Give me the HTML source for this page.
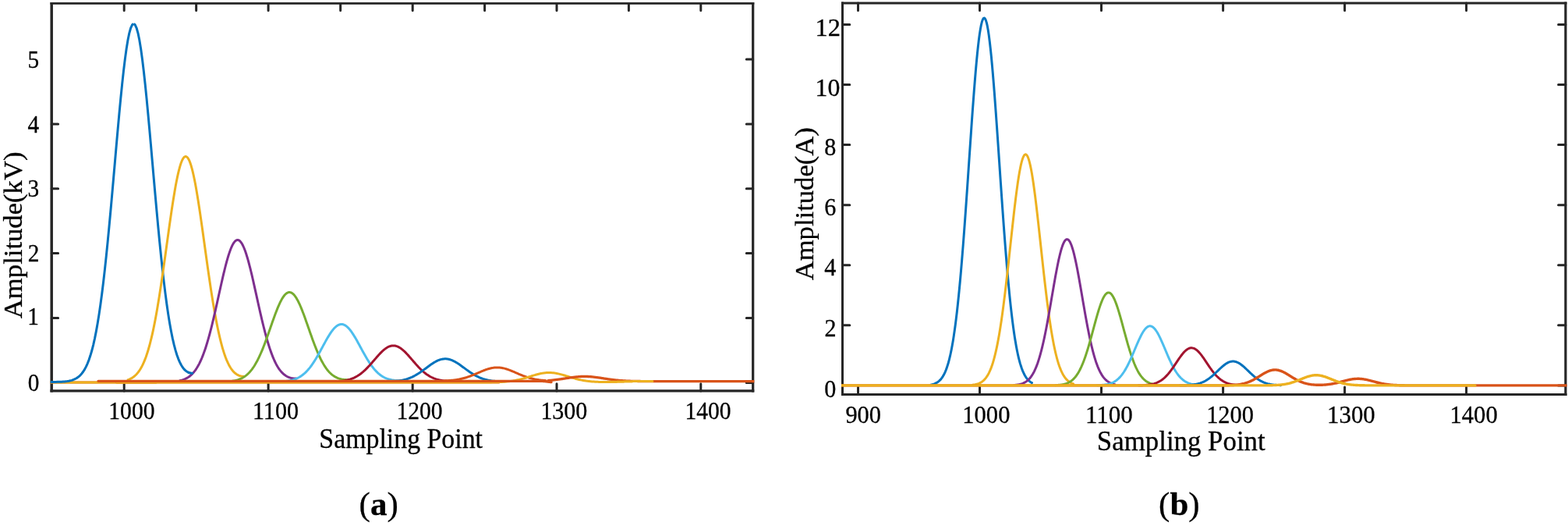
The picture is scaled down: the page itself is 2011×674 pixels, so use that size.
<!DOCTYPE html>
<html lang="en"><head><meta charset="utf-8"><title>Figure</title>
<style>html,body{margin:0;padding:0;background:#fff;}body{width:2011px;height:674px;overflow:hidden;}svg{display:block;}</style></head>
<body>
<svg width="2011" height="674" viewBox="0 0 2011 674" font-family="'Liberation Serif', 'Times New Roman', serif" fill="#000">
<rect width="2011" height="674" fill="#fff" stroke="none"/>
<clipPath id="clipa"><rect x="64.70" y="4.40" width="902.70" height="496.50"/></clipPath>
<g fill="none" stroke="#262626" stroke-linecap="round">
<path stroke-linecap="butt" stroke-width="2.80" d="M64.45,4.40H967.30"/>
<path stroke-linecap="butt" stroke-width="3.20" d="M64.45,500.90H967.30"/>
<path stroke-linecap="butt" stroke-width="3.50" d="M66.20,3.00V502.50"/>
<path stroke-linecap="butt" stroke-width="3.20" d="M965.70,3.00V502.50"/>
<path stroke-width="3.00" d="M159.20,500.90V491.80M344.10,500.90V491.80M529.20,500.90V491.80M714.00,500.90V491.80M898.80,500.90V491.80M159.20,4.40V13.50M251.65,4.40V13.50M344.10,4.40V13.50M436.65,4.40V13.50M529.20,4.40V13.50M621.60,4.40V13.50M714.00,4.40V13.50M806.40,4.40V13.50M898.80,4.40V13.50M66.20,407.50H74.60M66.20,324.60H74.60M66.20,241.80H74.60M66.20,158.90H74.60M965.70,490.40H957.30M965.70,407.50H957.30M965.70,324.60H957.30M965.70,241.80H957.30M965.70,158.90H957.30M965.70,76.00H957.30"/>
</g>
<g fill="none" stroke-width="3.00" stroke-linecap="round" stroke-linejoin="round" clip-path="url(#clipa)">
<path d="M60.00,490.00 L200.00,490.00" stroke="#D95319"/>
<path d="M60.00,490.00 L200.00,490.00" stroke="#EDB120"/>
<path d="M60.46,489.49 L62.31,489.48 L64.16,489.47 L66.01,489.46 L67.86,489.45 L69.71,489.43 L71.55,489.40 L73.40,489.37 L75.25,489.32 L77.10,489.25 L78.95,489.17 L80.80,489.06 L82.65,488.92 L84.50,488.73 L86.35,488.50 L88.20,488.19 L90.04,487.81 L91.89,487.33 L93.74,486.72 L95.59,485.96 L97.44,485.03 L99.29,483.88 L101.14,482.48 L102.99,480.78 L104.84,478.72 L106.69,476.27 L108.53,473.34 L110.38,469.88 L112.23,465.82 L114.08,461.08 L115.93,455.59 L117.78,449.28 L119.63,442.06 L121.48,433.87 L123.33,424.65 L125.18,414.33 L127.02,402.87 L128.87,390.25 L130.72,376.44 L132.57,361.45 L134.42,345.32 L136.27,328.08 L138.12,309.83 L139.97,290.67 L141.82,270.74 L143.67,250.20 L145.51,229.25 L147.36,208.09 L149.21,186.97 L151.06,166.14 L152.91,145.87 L154.76,126.44 L156.61,108.13 L158.46,91.20 L160.31,75.93 L162.16,62.55 L164.00,51.28 L165.85,42.30 L167.70,35.78 L169.55,31.83 L171.40,30.50" stroke="#0072BD" stroke-linecap="butt"/>
<path d="M171.40,30.50 L173.25,31.83 L175.10,35.78 L176.95,42.30 L178.80,51.28 L180.65,62.55 L182.49,75.93 L184.34,91.20 L186.19,108.13 L188.04,126.44 L189.89,145.87 L191.74,166.14 L193.59,186.97 L195.44,208.09 L197.29,229.25 L199.14,250.20 L200.98,270.74 L202.83,290.67 L204.68,309.83 L206.53,328.08 L208.38,345.32 L210.23,361.45 L212.08,376.44 L213.93,390.25 L215.78,402.87 L217.62,414.32 L219.47,424.57 L221.32,433.67 L223.17,441.68 L225.02,448.67 L226.87,454.69 L228.72,459.84 L230.57,464.17 L232.42,467.78 L234.27,470.72 L236.12,473.08 L237.96,474.91 L239.81,476.28 L241.66,477.25 L243.51,477.86 L245.36,478.15" stroke="#0072BD" stroke-linecap="butt"/>
<path d="M164.10,486.70 L165.10,486.33 L166.10,485.91 L167.11,485.45 L168.11,484.94 L169.11,484.36 L170.11,483.73 L171.11,483.03 L172.12,482.26 L173.12,481.41 L174.12,480.47 L175.12,479.45 L176.12,478.32 L177.13,477.09 L178.13,475.75 L179.13,474.29 L180.13,472.70 L181.13,470.98 L182.14,469.12 L183.14,467.11 L184.14,464.94 L185.14,462.61 L186.14,460.11 L187.15,457.43 L188.15,454.56 L189.15,451.50 L190.15,448.25 L191.15,444.79 L192.16,441.12 L193.16,437.24 L194.16,433.15 L195.16,428.84 L196.16,424.31 L197.17,419.56 L198.17,414.59 L199.17,409.41 L200.17,404.01 L201.17,398.41 L202.18,392.60 L203.18,386.60 L204.18,380.41 L205.18,374.04 L206.18,367.51 L207.19,360.83 L208.19,354.02 L209.19,347.08 L210.19,340.05 L211.19,332.94 L212.20,325.76 L213.20,318.55 L214.20,311.32 L215.20,304.11 L216.20,296.92 L217.21,289.80 L218.21,282.77 L219.21,275.86 L220.21,269.09 L221.21,262.49 L222.22,256.09 L223.22,249.91 L224.22,244.00 L225.22,238.36 L226.22,233.03 L227.23,228.03 L228.23,223.39 L229.23,219.12 L230.23,215.26 L231.23,211.81 L232.24,208.79 L233.24,206.23 L234.24,204.12 L235.24,202.49 L236.24,201.34 L237.25,200.68 L238.25,200.51 L239.25,200.82 L240.25,201.63 L241.26,202.93 L242.26,204.70 L243.26,206.94 L244.26,209.64 L245.26,212.79 L246.27,216.36 L247.27,220.35 L248.27,224.73 L249.27,229.48 L250.27,234.58 L251.28,240.00 L252.28,245.73 L253.28,251.72 L254.28,257.97 L255.28,264.43 L256.29,271.08 L257.29,277.90 L258.29,284.85 L259.29,291.91 L260.29,299.05 L261.30,306.25 L262.30,313.47 L263.30,320.70 L264.30,327.90 L265.30,335.06 L266.31,342.15 L267.31,349.16 L268.31,356.06 L269.31,362.83 L270.31,369.47 L271.32,375.95 L272.32,382.27 L273.32,388.40 L274.32,394.35 L275.32,400.10 L276.33,405.64 L277.33,410.97 L278.33,416.09 L279.33,420.99 L280.33,425.68 L281.34,430.14 L282.34,434.39 L283.34,438.42 L284.34,442.22 L285.34,445.81 L286.35,449.18 L287.35,452.34 L288.35,455.29 L289.35,458.04 L290.35,460.60 L291.36,462.97 L292.36,465.16 L293.36,467.18 L294.36,469.04 L295.36,470.73 L296.37,472.28 L297.37,473.69 L298.37,474.96 L299.37,476.10 L300.37,477.13 L301.38,478.04 L302.38,478.84 L303.38,479.55 L304.38,480.16 L305.38,480.68 L306.39,481.13 L307.39,481.50 L308.39,481.79 L309.39,482.02 L310.39,482.20 L311.40,482.31 L312.40,482.37 L313.40,482.38" stroke="#EDB120"/>
<path d="M230.70,487.74 L231.70,487.50 L232.70,487.24 L233.71,486.95 L234.71,486.63 L235.71,486.27 L236.71,485.87 L237.71,485.43 L238.72,484.94 L239.72,484.40 L240.72,483.81 L241.72,483.17 L242.72,482.46 L243.73,481.69 L244.73,480.84 L245.73,479.92 L246.73,478.92 L247.73,477.84 L248.74,476.67 L249.74,475.40 L250.74,474.04 L251.74,472.57 L252.74,470.99 L253.75,469.30 L254.75,467.50 L255.75,465.57 L256.75,463.52 L257.75,461.34 L258.76,459.03 L259.76,456.59 L260.76,454.01 L261.76,451.30 L262.76,448.45 L263.77,445.45 L264.77,442.33 L265.77,439.06 L266.77,435.66 L267.77,432.13 L268.78,428.48 L269.78,424.70 L270.78,420.80 L271.78,416.79 L272.78,412.68 L273.79,408.47 L274.79,404.18 L275.79,399.81 L276.79,395.38 L277.79,390.90 L278.80,386.38 L279.80,381.84 L280.80,377.29 L281.80,372.75 L282.80,368.22 L283.81,363.74 L284.81,359.31 L285.81,354.96 L286.81,350.69 L287.81,346.54 L288.82,342.51 L289.82,338.62 L290.82,334.89 L291.82,331.34 L292.82,327.99 L293.83,324.84 L294.83,321.91 L295.83,319.23 L296.83,316.79 L297.83,314.62 L298.84,312.72 L299.84,311.11 L300.84,309.78 L301.84,308.75 L302.84,308.03 L303.85,307.61 L304.85,307.50 L305.85,307.70 L306.85,308.21 L307.86,309.03 L308.86,310.14 L309.86,311.56 L310.86,313.26 L311.86,315.24 L312.87,317.49 L313.87,320.00 L314.87,322.76 L315.87,325.75 L316.87,328.96 L317.88,332.38 L318.88,335.98 L319.88,339.76 L320.88,343.69 L321.88,347.76 L322.89,351.95 L323.89,356.24 L324.89,360.62 L325.89,365.07 L326.89,369.57 L327.90,374.10 L328.90,378.64 L329.90,383.19 L330.90,387.73 L331.90,392.24 L332.91,396.71 L333.91,401.12 L334.91,405.46 L335.91,409.73 L336.91,413.91 L337.92,417.99 L338.92,421.97 L339.92,425.83 L340.92,429.58 L341.92,433.20 L342.93,436.69 L343.93,440.05 L344.93,443.27 L345.93,446.36 L346.93,449.31 L347.94,452.12 L348.94,454.79 L349.94,457.33 L350.94,459.73 L351.94,461.99 L352.95,464.11 L353.95,466.10 L354.95,467.96 L355.95,469.69 L356.95,471.30 L357.96,472.79 L358.96,474.17 L359.96,475.45 L360.96,476.61 L361.96,477.68 L362.97,478.66 L363.97,479.54 L364.97,480.34 L365.97,481.06 L366.97,481.71 L367.98,482.28 L368.98,482.79 L369.98,483.23 L370.98,483.62 L371.98,483.95 L372.99,484.23 L373.99,484.46 L374.99,484.65 L375.99,484.79 L376.99,484.90 L378.00,484.97 L379.00,485.01 L380.00,485.02" stroke="#7E2F8E"/>
<path d="M297.20,488.39 L298.20,488.24 L299.20,488.07 L300.21,487.89 L301.21,487.68 L302.21,487.46 L303.21,487.20 L304.21,486.93 L305.22,486.62 L306.22,486.28 L307.22,485.91 L308.22,485.50 L309.22,485.05 L310.23,484.56 L311.23,484.03 L312.23,483.45 L313.23,482.82 L314.23,482.13 L315.24,481.39 L316.24,480.59 L317.24,479.73 L318.24,478.80 L319.24,477.80 L320.25,476.74 L321.25,475.60 L322.25,474.38 L323.25,473.08 L324.25,471.71 L325.26,470.25 L326.26,468.71 L327.26,467.08 L328.26,465.36 L329.26,463.56 L330.27,461.67 L331.27,459.69 L332.27,457.63 L333.27,455.48 L334.27,453.25 L335.28,450.94 L336.28,448.55 L337.28,446.09 L338.28,443.56 L339.28,440.96 L340.29,438.30 L341.29,435.59 L342.29,432.83 L343.29,430.03 L344.29,427.20 L345.30,424.34 L346.30,421.47 L347.30,418.60 L348.30,415.73 L349.30,412.87 L350.31,410.04 L351.31,407.24 L352.31,404.49 L353.31,401.79 L354.31,399.17 L355.32,396.62 L356.32,394.16 L357.32,391.81 L358.32,389.56 L359.32,387.44 L360.33,385.45 L361.33,383.61 L362.33,381.91 L363.33,380.37 L364.33,379.00 L365.34,377.80 L366.34,376.78 L367.34,375.94 L368.34,375.29 L369.34,374.83 L370.35,374.57 L371.35,374.50 L372.35,374.63 L373.35,374.95 L374.36,375.47 L375.36,376.17 L376.36,377.06 L377.36,378.14 L378.36,379.39 L379.37,380.81 L380.37,382.40 L381.37,384.14 L382.37,386.03 L383.37,388.06 L384.38,390.22 L385.38,392.50 L386.38,394.88 L387.38,397.37 L388.38,399.94 L389.39,402.59 L390.39,405.30 L391.39,408.07 L392.39,410.88 L393.39,413.72 L394.40,416.58 L395.40,419.45 L396.40,422.33 L397.40,425.20 L398.40,428.04 L399.41,430.87 L400.41,433.65 L401.41,436.40 L402.41,439.10 L403.41,441.74 L404.42,444.32 L405.42,446.83 L406.42,449.27 L407.42,451.64 L408.42,453.92 L409.43,456.13 L410.43,458.25 L411.43,460.29 L412.43,462.24 L413.43,464.10 L414.44,465.88 L415.44,467.57 L416.44,469.17 L417.44,470.69 L418.44,472.12 L419.45,473.46 L420.45,474.71 L421.45,475.89 L422.45,476.98 L423.45,478.00 L424.46,478.94 L425.46,479.82 L426.46,480.62 L427.46,481.36 L428.46,482.03 L429.47,482.65 L430.47,483.21 L431.47,483.71 L432.47,484.17 L433.47,484.58 L434.48,484.94 L435.48,485.26 L436.48,485.54 L437.48,485.78 L438.48,485.99 L439.49,486.17 L440.49,486.31 L441.49,486.43 L442.49,486.53 L443.49,486.59 L444.50,486.64 L445.50,486.66 L446.50,486.67" stroke="#77AC30"/>
<path d="M363.90,488.78 L364.90,488.69 L365.90,488.58 L366.91,488.46 L367.91,488.33 L368.91,488.18 L369.91,488.02 L370.91,487.84 L371.92,487.65 L372.92,487.43 L373.92,487.19 L374.92,486.93 L375.92,486.64 L376.93,486.32 L377.93,485.98 L378.93,485.61 L379.93,485.20 L380.93,484.76 L381.94,484.28 L382.94,483.77 L383.94,483.21 L384.94,482.62 L385.94,481.97 L386.95,481.29 L387.95,480.55 L388.95,479.77 L389.95,478.94 L390.95,478.05 L391.96,477.11 L392.96,476.12 L393.96,475.07 L394.96,473.97 L395.96,472.81 L396.97,471.59 L397.97,470.32 L398.97,468.99 L399.97,467.61 L400.97,466.18 L401.98,464.69 L402.98,463.15 L403.98,461.57 L404.98,459.94 L405.98,458.26 L406.99,456.55 L407.99,454.81 L408.99,453.03 L409.99,451.23 L410.99,449.41 L412.00,447.57 L413.00,445.73 L414.00,443.88 L415.00,442.03 L416.00,440.19 L417.01,438.37 L418.01,436.57 L419.01,434.80 L420.01,433.06 L421.01,431.37 L422.02,429.73 L423.02,428.15 L424.02,426.64 L425.02,425.19 L426.02,423.83 L427.03,422.55 L428.03,421.36 L429.03,420.27 L430.03,419.28 L431.03,418.39 L432.04,417.62 L433.04,416.97 L434.04,416.43 L435.04,416.01 L436.04,415.72 L437.05,415.55 L438.05,415.50 L439.05,415.58 L440.05,415.79 L441.06,416.12 L442.06,416.57 L443.06,417.15 L444.06,417.84 L445.06,418.65 L446.07,419.56 L447.07,420.58 L448.07,421.70 L449.07,422.92 L450.07,424.23 L451.08,425.62 L452.08,427.08 L453.08,428.62 L454.08,430.21 L455.08,431.87 L456.09,433.57 L457.09,435.32 L458.09,437.10 L459.09,438.91 L460.09,440.74 L461.10,442.58 L462.10,444.43 L463.10,446.28 L464.10,448.12 L465.10,449.95 L466.11,451.77 L467.11,453.56 L468.11,455.33 L469.11,457.07 L470.11,458.77 L471.12,460.43 L472.12,462.04 L473.12,463.61 L474.12,465.14 L475.12,466.61 L476.13,468.03 L477.13,469.39 L478.13,470.70 L479.13,471.96 L480.13,473.16 L481.14,474.30 L482.14,475.39 L483.14,476.42 L484.14,477.39 L485.14,478.31 L486.15,479.18 L487.15,479.98 L488.15,480.74 L489.15,481.44 L490.15,482.10 L491.16,482.71 L492.16,483.27 L493.16,483.79 L494.16,484.26 L495.16,484.69 L496.17,485.09 L497.17,485.45 L498.17,485.78 L499.17,486.07 L500.17,486.33 L501.18,486.56 L502.18,486.77 L503.18,486.95 L504.18,487.11 L505.18,487.24 L506.19,487.36 L507.19,487.45 L508.19,487.53 L509.19,487.59 L510.19,487.63 L511.20,487.66 L512.20,487.67 L513.20,487.68" stroke="#4DBEEE"/>
<path d="M430.40,489.05 L431.40,488.99 L432.40,488.92 L433.41,488.85 L434.41,488.76 L435.41,488.67 L436.41,488.57 L437.41,488.46 L438.42,488.33 L439.42,488.20 L440.42,488.04 L441.42,487.88 L442.42,487.70 L443.43,487.50 L444.43,487.28 L445.43,487.05 L446.43,486.79 L447.43,486.51 L448.44,486.21 L449.44,485.89 L450.44,485.54 L451.44,485.16 L452.44,484.76 L453.45,484.33 L454.45,483.87 L455.45,483.37 L456.45,482.85 L457.45,482.29 L458.46,481.70 L459.46,481.07 L460.46,480.41 L461.46,479.72 L462.46,478.99 L463.47,478.22 L464.47,477.42 L465.47,476.59 L466.47,475.72 L467.47,474.81 L468.48,473.88 L469.48,472.91 L470.48,471.91 L471.48,470.88 L472.48,469.83 L473.49,468.75 L474.49,467.65 L475.49,466.54 L476.49,465.40 L477.49,464.25 L478.50,463.10 L479.50,461.93 L480.50,460.77 L481.50,459.61 L482.50,458.45 L483.51,457.30 L484.51,456.17 L485.51,455.05 L486.51,453.96 L487.51,452.90 L488.52,451.86 L489.52,450.87 L490.52,449.91 L491.52,449.00 L492.52,448.15 L493.53,447.34 L494.53,446.59 L495.53,445.90 L496.53,445.28 L497.53,444.72 L498.54,444.24 L499.54,443.82 L500.54,443.48 L501.54,443.22 L502.54,443.04 L503.55,442.93 L504.55,442.90 L505.55,442.95 L506.55,443.08 L507.56,443.29 L508.56,443.58 L509.56,443.94 L510.56,444.37 L511.56,444.88 L512.57,445.46 L513.57,446.10 L514.57,446.81 L515.57,447.57 L516.57,448.40 L517.58,449.27 L518.58,450.19 L519.58,451.16 L520.58,452.17 L521.58,453.21 L522.59,454.28 L523.59,455.38 L524.59,456.50 L525.59,457.64 L526.59,458.79 L527.60,459.95 L528.60,461.12 L529.60,462.28 L530.60,463.44 L531.60,464.60 L532.61,465.74 L533.61,466.87 L534.61,467.98 L535.61,469.08 L536.61,470.15 L537.62,471.19 L538.62,472.21 L539.62,473.20 L540.62,474.16 L541.62,475.08 L542.63,475.98 L543.63,476.84 L544.63,477.66 L545.63,478.45 L546.63,479.21 L547.64,479.93 L548.64,480.61 L549.64,481.26 L550.64,481.88 L551.64,482.46 L552.65,483.00 L553.65,483.51 L554.65,483.98 L555.65,484.43 L556.65,484.84 L557.66,485.22 L558.66,485.58 L559.66,485.90 L560.66,486.20 L561.66,486.47 L562.67,486.72 L563.67,486.95 L564.67,487.16 L565.67,487.34 L566.67,487.50 L567.68,487.65 L568.68,487.78 L569.68,487.90 L570.68,487.99 L571.68,488.08 L572.69,488.15 L573.69,488.21 L574.69,488.26 L575.69,488.29 L576.69,488.32 L577.70,488.34 L578.70,488.35 L579.70,488.35" stroke="#A2142F"/>
<path d="M497.00,489.21 L498.00,489.17 L499.00,489.13 L500.01,489.08 L501.01,489.03 L502.01,488.97 L503.01,488.91 L504.01,488.84 L505.02,488.76 L506.02,488.67 L507.02,488.57 L508.02,488.47 L509.02,488.35 L510.03,488.22 L511.03,488.09 L512.03,487.94 L513.03,487.77 L514.03,487.60 L515.04,487.41 L516.04,487.20 L517.04,486.98 L518.04,486.74 L519.04,486.48 L520.05,486.20 L521.05,485.91 L522.05,485.59 L523.05,485.26 L524.05,484.90 L525.06,484.53 L526.06,484.13 L527.06,483.71 L528.06,483.27 L529.06,482.80 L530.07,482.31 L531.07,481.80 L532.07,481.27 L533.07,480.71 L534.07,480.14 L535.08,479.54 L536.08,478.92 L537.08,478.29 L538.08,477.63 L539.08,476.96 L540.09,476.28 L541.09,475.58 L542.09,474.86 L543.09,474.14 L544.09,473.41 L545.10,472.67 L546.10,471.93 L547.10,471.19 L548.10,470.45 L549.10,469.71 L550.11,468.98 L551.11,468.26 L552.11,467.54 L553.11,466.85 L554.11,466.17 L555.12,465.51 L556.12,464.88 L557.12,464.27 L558.12,463.69 L559.12,463.14 L560.13,462.63 L561.13,462.15 L562.13,461.71 L563.13,461.32 L564.13,460.96 L565.14,460.65 L566.14,460.39 L567.14,460.17 L568.14,460.00 L569.14,459.89 L570.15,459.82 L571.15,459.80 L572.15,459.83 L573.15,459.92 L574.16,460.05 L575.16,460.23 L576.16,460.46 L577.16,460.74 L578.16,461.06 L579.17,461.43 L580.17,461.84 L581.17,462.29 L582.17,462.78 L583.17,463.30 L584.18,463.86 L585.18,464.45 L586.18,465.06 L587.18,465.71 L588.18,466.37 L589.19,467.05 L590.19,467.75 L591.19,468.47 L592.19,469.19 L593.19,469.93 L594.20,470.67 L595.20,471.41 L596.20,472.15 L597.20,472.89 L598.20,473.63 L599.21,474.36 L600.21,475.08 L601.21,475.79 L602.21,476.48 L603.21,477.16 L604.22,477.83 L605.22,478.48 L606.22,479.11 L607.22,479.72 L608.22,480.31 L609.23,480.88 L610.23,481.43 L611.23,481.96 L612.23,482.46 L613.23,482.94 L614.24,483.40 L615.24,483.84 L616.24,484.25 L617.24,484.64 L618.24,485.01 L619.25,485.36 L620.25,485.68 L621.25,485.98 L622.25,486.27 L623.25,486.53 L624.26,486.77 L625.26,487.00 L626.26,487.21 L627.26,487.40 L628.26,487.57 L629.27,487.73 L630.27,487.87 L631.27,488.01 L632.27,488.12 L633.27,488.23 L634.28,488.32 L635.28,488.40 L636.28,488.48 L637.28,488.54 L638.28,488.59 L639.29,488.64 L640.29,488.68 L641.29,488.71 L642.29,488.73 L643.29,488.75 L644.30,488.76 L645.30,488.77 L646.30,488.77" stroke="#0072BD"/>
<path d="M241.40,477.13 L242.46,477.55 L243.52,477.86 L244.58,478.06 L245.64,478.17 L246.70,478.20" stroke="#0072BD"/>
<path d="M570.00,487.94 L571.00,487.89 L572.00,487.84 L573.00,487.79 L574.00,487.73 L575.00,487.67 L576.00,487.60 L577.00,487.52 L578.00,487.44 L579.00,487.35 L580.00,487.25 L581.00,487.15 L582.00,487.03 L583.00,486.91 L584.00,486.77 L585.00,486.63 L586.00,486.47 L587.00,486.31 L588.00,486.13 L589.00,485.95 L590.00,485.75 L591.00,485.53 L592.00,485.31 L593.00,485.07 L594.00,484.82 L595.00,484.56 L596.00,484.28 L597.00,483.99 L598.00,483.69 L599.00,483.37 L600.00,483.04 L601.00,482.70 L602.00,482.35 L603.00,481.99 L604.00,481.61 L605.00,481.22 L606.00,480.83 L607.00,480.43 L608.00,480.01 L609.00,479.60 L610.00,479.17 L611.00,478.74 L612.00,478.31 L613.00,477.88 L614.00,477.44 L615.00,477.01 L616.00,476.58 L617.00,476.15 L618.00,475.73 L619.00,475.32 L620.00,474.91 L621.00,474.52 L622.00,474.14 L623.00,473.77 L624.00,473.42 L625.00,473.09 L626.00,472.77 L627.00,472.48 L628.00,472.21 L629.00,471.96 L630.00,471.73 L631.00,471.53 L632.00,471.36 L633.00,471.21 L634.00,471.09 L635.00,471.00 L636.00,470.94 L637.00,470.91 L638.00,470.90 L639.00,470.93 L640.00,470.98 L641.00,471.07 L642.00,471.18 L643.00,471.32 L644.00,471.49 L645.00,471.69 L646.00,471.91 L647.00,472.15 L648.00,472.42 L649.00,472.71 L650.00,473.02 L651.00,473.35 L652.00,473.70 L653.00,474.07 L654.00,474.44 L655.00,474.83 L656.00,475.24 L657.00,475.65 L658.00,476.07 L659.00,476.49 L660.00,476.92 L661.00,477.36 L662.00,477.79 L663.00,478.22 L664.00,478.66 L665.00,479.09 L666.00,479.51 L667.00,479.93 L668.00,480.34 L669.00,480.75 L670.00,481.15 L671.00,481.53 L672.00,481.91 L673.00,482.28 L674.00,482.63 L675.00,482.98 L676.00,483.31 L677.00,483.63 L678.00,483.93 L679.00,484.22 L680.00,484.50 L681.00,484.77 L682.00,485.02 L683.00,485.26 L684.00,485.49 L685.00,485.70 L686.00,485.91 L687.00,486.10 L688.00,486.27 L689.00,486.44 L690.00,486.60 L691.00,486.74 L692.00,486.88 L693.00,487.01 L694.00,487.12 L695.00,487.23 L696.00,487.33 L697.00,487.42 L698.00,487.51 L699.00,487.59 L700.00,487.66" stroke="#D95319"/>
<path d="M150.00,490.00 L640.00,490.00" stroke="#D95319"/>
<path d="M150.00,490.00 L151.00,490.00 L152.00,490.00 L153.00,490.00 L154.00,490.00 L155.00,490.00 L156.00,490.00 L157.00,490.00 L158.00,490.00 L159.00,490.00 L160.00,490.00 L161.00,490.00 L162.00,490.00 L163.00,490.00 L164.00,490.00 L165.00,490.00 L166.00,490.00 L167.00,490.00 L168.00,490.00 L169.00,490.00 L170.00,490.00 L171.00,490.00 L172.00,490.00 L173.00,490.00 L174.00,490.00 L175.00,490.00 L176.00,490.00 L177.00,490.00 L178.00,490.00 L179.00,490.00 L180.00,490.00 L181.00,490.00 L182.00,490.00 L183.00,490.00 L184.00,490.00 L184.99,490.00 L185.99,490.00 L186.99,490.00 L187.99,490.00 L188.99,490.00 L189.99,490.00 L190.99,490.00 L191.99,490.00 L192.99,490.00 L193.99,490.00 L194.99,490.00 L195.99,490.00 L196.99,490.00 L197.99,490.00 L198.99,490.00 L199.99,490.00 L200.99,490.00 L201.99,490.00 L202.99,490.00 L203.99,490.00 L204.99,490.00 L205.99,490.00 L206.99,490.00 L207.99,490.00 L208.99,490.00 L209.99,490.00 L210.99,490.00 L211.99,490.00 L212.99,490.00 L213.99,490.00 L214.99,490.00 L215.99,490.00 L216.99,490.00 L217.99,490.00 L218.99,490.00 L219.99,490.00 L220.99,490.00 L221.99,490.00 L222.99,490.00 L223.99,490.00 L224.99,490.00 L225.99,490.00 L226.99,490.00 L227.99,490.00 L228.99,490.00 L229.99,490.00 L230.99,490.00 L231.99,490.00 L232.99,490.00 L233.99,490.00 L234.99,490.00 L235.99,490.00 L236.99,490.00 L237.99,490.00 L238.99,490.00 L239.99,490.00 L240.99,490.00 L241.99,490.00 L242.99,490.00 L243.99,490.00 L244.99,490.00 L245.99,490.00 L246.99,490.00 L247.99,490.00 L248.99,490.00 L249.99,490.00 L250.99,490.00 L251.99,490.00 L252.99,490.00 L253.98,490.00 L254.98,490.00 L255.98,490.00 L256.98,490.00 L257.98,490.00 L258.98,490.00 L259.98,490.00 L260.98,490.00 L261.98,490.00 L262.98,490.00 L263.98,490.00 L264.98,490.00 L265.98,490.00 L266.98,490.00 L267.98,490.00 L268.98,490.00 L269.98,490.00 L270.98,490.00 L271.98,490.00 L272.98,490.00 L273.98,490.00 L274.98,490.00 L275.98,490.00 L276.98,490.00 L277.98,490.00 L278.98,490.00 L279.98,490.00 L280.98,490.00 L281.98,490.00 L282.98,490.00 L283.98,490.00 L284.98,490.00 L285.98,490.00 L286.98,490.00 L287.98,490.00 L288.98,490.00 L289.98,490.00 L290.98,490.00 L291.98,490.00 L292.98,490.00 L293.98,490.00 L294.98,490.00 L295.98,490.00 L296.98,490.00 L297.98,490.00 L298.98,490.00 L299.98,490.00 L300.98,490.00 L301.98,490.00 L302.98,490.00 L303.98,490.00 L304.98,490.00 L305.98,490.00 L306.98,490.00 L307.98,490.00 L308.98,490.00 L309.98,490.00 L310.98,490.00 L311.98,490.00 L312.98,490.00 L313.98,490.00 L314.98,490.00 L315.98,490.00 L316.98,490.00 L317.98,490.00 L318.98,490.00 L319.98,490.00 L320.98,490.00 L321.97,490.00 L322.97,490.00 L323.97,490.00 L324.97,490.00 L325.97,490.00 L326.97,490.00 L327.97,490.00 L328.97,490.00 L329.97,490.00 L330.97,490.00 L331.97,490.00 L332.97,490.00 L333.97,490.00 L334.97,490.00 L335.97,490.00 L336.97,490.00 L337.97,490.00 L338.97,490.00 L339.97,490.00 L340.97,490.00 L341.97,490.00 L342.97,490.00 L343.97,490.00 L344.97,490.00 L345.97,490.00 L346.97,490.00 L347.97,490.00 L348.97,490.00 L349.97,490.00 L350.97,490.00 L351.97,490.00 L352.97,490.00 L353.97,490.00 L354.97,490.00 L355.97,490.00 L356.97,490.00 L357.97,490.00 L358.97,490.00 L359.97,490.00 L360.97,490.00 L361.97,490.00 L362.97,490.00 L363.97,490.00 L364.97,490.00 L365.97,490.00 L366.97,490.00 L367.97,490.00 L368.97,490.00 L369.97,490.00 L370.97,490.00 L371.97,490.00 L372.97,490.00 L373.97,490.00 L374.97,490.00 L375.97,490.00 L376.97,490.00 L377.97,490.00 L378.97,490.00 L379.97,490.00 L380.97,490.00 L381.97,490.00 L382.97,490.00 L383.97,490.00 L384.97,490.00 L385.97,490.00 L386.97,490.00 L387.97,490.00 L388.97,490.00 L389.97,490.00 L390.96,490.00 L391.96,490.00 L392.96,490.00 L393.96,490.00 L394.96,490.00 L395.96,490.00 L396.96,490.00 L397.96,490.00 L398.96,490.00 L399.96,490.00 L400.96,490.00 L401.96,490.00 L402.96,490.00 L403.96,490.00 L404.96,490.00 L405.96,490.00 L406.96,490.00 L407.96,490.00 L408.96,490.00 L409.96,490.00 L410.96,490.00 L411.96,490.00 L412.96,490.00 L413.96,490.00 L414.96,490.00 L415.96,490.00 L416.96,490.00 L417.96,490.00 L418.96,490.00 L419.96,490.00 L420.96,490.00 L421.96,490.00 L422.96,490.00 L423.96,490.00 L424.96,490.00 L425.96,490.00 L426.96,490.00 L427.96,490.00 L428.96,490.00 L429.96,490.00 L430.96,490.00 L431.96,490.00 L432.96,490.00 L433.96,490.00 L434.96,490.00 L435.96,490.00 L436.96,490.00 L437.96,490.00 L438.96,490.00 L439.96,490.00 L440.96,490.00 L441.96,490.00 L442.96,490.00 L443.96,490.00 L444.96,490.00 L445.96,490.00 L446.96,490.00 L447.96,490.00 L448.96,490.00 L449.96,490.00 L450.96,490.00 L451.96,490.00 L452.96,490.00 L453.96,490.00 L454.96,490.00 L455.96,490.00 L456.96,490.00 L457.96,490.00 L458.96,490.00 L459.95,490.00 L460.95,490.00 L461.95,490.00 L462.95,490.00 L463.95,490.00 L464.95,490.00 L465.95,490.00 L466.95,490.00 L467.95,490.00 L468.95,490.00 L469.95,490.00 L470.95,490.00 L471.95,490.00 L472.95,490.00 L473.95,490.00 L474.95,490.00 L475.95,490.00 L476.95,490.00 L477.95,490.00 L478.95,490.00 L479.95,490.00 L480.95,490.00 L481.95,490.00 L482.95,490.00 L483.95,490.00 L484.95,490.00 L485.95,490.00 L486.95,490.00 L487.95,490.00 L488.95,490.00 L489.95,490.00 L490.95,490.00 L491.95,490.00 L492.95,490.00 L493.95,490.00 L494.95,490.00 L495.95,490.00 L496.95,490.00 L497.95,490.00 L498.95,490.00 L499.95,490.00 L500.95,490.00 L501.95,490.00 L502.95,490.00 L503.95,490.00 L504.95,490.00 L505.95,490.00 L506.95,490.00 L507.95,490.00 L508.95,490.00 L509.95,490.00 L510.95,490.00 L511.95,490.00 L512.95,490.00 L513.95,490.00 L514.95,490.00 L515.95,490.00 L516.95,490.00 L517.95,490.00 L518.95,490.00 L519.95,490.00 L520.95,490.00 L521.95,490.00 L522.95,490.00 L523.95,490.00 L524.95,490.00 L525.95,490.00 L526.95,490.00 L527.94,490.00 L528.94,490.00 L529.94,490.00 L530.94,490.00 L531.94,490.00 L532.94,490.00 L533.94,490.00 L534.94,490.00 L535.94,490.00 L536.94,490.00 L537.94,490.00 L538.94,490.00 L539.94,490.00 L540.94,490.00 L541.94,490.00 L542.94,490.00 L543.94,490.00 L544.94,490.00 L545.94,490.00 L546.94,490.00 L547.94,490.00 L548.94,490.00 L549.94,490.00 L550.94,490.00 L551.94,490.00 L552.94,490.00 L553.94,490.00 L554.94,490.00 L555.94,490.00 L556.94,490.00 L557.94,490.00 L558.94,490.00 L559.94,490.00 L560.94,490.00 L561.94,490.00 L562.94,490.00 L563.94,490.00 L564.94,490.00 L565.94,490.00 L566.94,490.00 L567.94,490.00 L568.94,490.00 L569.94,490.00 L570.94,490.00 L571.94,490.00 L572.94,490.00 L573.94,490.00 L574.94,490.00 L575.94,490.00 L576.94,490.00 L577.94,490.00 L578.94,490.00 L579.94,490.00 L580.94,490.00 L581.94,490.00 L582.94,490.00 L583.94,490.00 L584.94,490.00 L585.94,490.00 L586.94,490.00 L587.94,490.00 L588.94,490.00 L589.94,490.00 L590.94,490.00 L591.94,490.00 L592.94,490.00 L593.94,490.00 L594.94,490.00 L595.94,490.00 L596.93,490.00 L597.93,490.00 L598.93,490.00 L599.93,490.00 L600.93,490.00 L601.93,490.00 L602.93,490.00 L603.93,490.00 L604.93,490.00 L605.93,490.00 L606.93,490.00 L607.93,490.00 L608.93,489.99 L609.93,489.99 L610.93,489.99 L611.93,489.99 L612.93,489.99 L613.93,489.99 L614.93,489.99 L615.93,489.98 L616.93,489.98 L617.93,489.98 L618.93,489.97 L619.93,489.97 L620.93,489.96 L621.93,489.96 L622.93,489.95 L623.93,489.95 L624.93,489.94 L625.93,489.93 L626.93,489.92 L627.93,489.91 L628.93,489.90 L629.93,489.88 L630.93,489.87 L631.93,489.85 L632.93,489.83 L633.93,489.81 L634.93,489.79 L635.93,489.76 L636.93,489.73 L637.93,489.70 L638.93,489.66 L639.93,489.62 L640.93,489.58 L641.93,489.53 L642.93,489.48 L643.93,489.42 L644.93,489.36 L645.93,489.29 L646.93,489.22 L647.93,489.14 L648.93,489.06 L649.93,488.97 L650.93,488.87 L651.93,488.76 L652.93,488.65 L653.93,488.53 L654.93,488.40 L655.93,488.26 L656.93,488.12 L657.93,487.96 L658.93,487.80 L659.93,487.62 L660.93,487.44 L661.93,487.25 L662.93,487.05 L663.93,486.83 L664.93,486.61 L665.92,486.38 L666.92,486.15 L667.92,485.90 L668.92,485.64 L669.92,485.38 L670.92,485.11 L671.92,484.83 L672.92,484.54 L673.92,484.25 L674.92,483.95 L675.92,483.65 L676.92,483.34 L677.92,483.03 L678.92,482.72 L679.92,482.41 L680.92,482.10 L681.92,481.79 L682.92,481.48 L683.92,481.18 L684.92,480.87 L685.92,480.58 L686.92,480.29 L687.92,480.01 L688.92,479.74 L689.92,479.48 L690.92,479.23 L691.92,479.00 L692.92,478.78 L693.92,478.57 L694.92,478.38 L695.92,478.20 L696.92,478.05 L697.92,477.91 L698.92,477.79 L699.92,477.69 L700.92,477.61 L701.92,477.55 L702.92,477.52 L703.92,477.50 L704.92,477.50 L705.92,477.53 L706.92,477.58 L707.92,477.64 L708.92,477.73 L709.92,477.84 L710.92,477.97 L711.92,478.11 L712.92,478.28 L713.92,478.46 L714.92,478.66 L715.92,478.87 L716.92,479.10 L717.92,479.34 L718.92,479.59 L719.92,479.85 L720.92,480.13 L721.92,480.41 L722.92,480.70 L723.92,481.00 L724.92,481.30 L725.92,481.61 L726.92,481.92 L727.92,482.23 L728.92,482.54 L729.92,482.85 L730.92,483.16 L731.92,483.46 L732.92,483.77 L733.91,484.07 L734.91,484.36 L735.91,484.65 L736.91,484.93 L737.91,485.21 L738.91,485.47 L739.91,485.73 L740.91,485.98 L741.91,486.22 L742.91,486.46 L743.91,486.68 L744.91,486.89 L745.91,487.10 L746.91,487.29 L747.91,487.47 L748.91,487.65 L749.91,487.81 L750.91,487.97 L751.91,488.12 L752.91,488.25 L753.91,488.38 L754.91,488.50 L755.91,488.61 L756.91,488.72 L757.91,488.81 L758.91,488.90 L759.91,488.98 L760.91,489.05 L761.91,489.11 L762.91,489.17 L763.91,489.23 L764.91,489.27 L765.91,489.31 L766.91,489.35 L767.91,489.38 L768.91,489.40 L769.91,489.42 L770.91,489.44 L771.91,489.45 L772.91,489.46 L773.91,489.46 L774.91,489.46 L775.91,489.46 L776.91,489.46 L777.91,489.45 L778.91,489.43 L779.91,489.42 L780.91,489.40 L781.91,489.38 L782.91,489.36 L783.91,489.34 L784.91,489.32 L785.91,489.29 L786.91,489.26 L787.91,489.24 L788.91,489.21 L789.91,489.18 L790.91,489.15 L791.91,489.12 L792.91,489.09 L793.91,489.06 L794.91,489.03 L795.91,489.00 L796.91,488.97 L797.91,488.94 L798.91,488.91 L799.91,488.88 L800.91,488.86 L801.91,488.83 L802.90,488.80 L803.90,488.78 L804.90,488.76 L805.90,488.73 L806.90,488.71 L807.90,488.69 L808.90,488.67 L809.90,488.65 L810.90,488.64 L811.90,488.62 L812.90,488.61 L813.90,488.59 L814.90,488.58 L815.90,488.57 L816.90,488.55 L817.90,488.54 L818.90,488.53 L819.90,488.52 L820.90,488.51 L821.90,488.50 L822.90,488.50 L823.90,488.49 L824.90,488.48 L825.90,488.48 L826.90,488.47 L827.90,488.47 L828.90,488.46 L829.90,488.46 L830.90,488.45 L831.90,488.45 L832.90,488.44 L833.90,488.44 L834.90,488.44 L835.90,488.43 L836.90,488.43" stroke="#EDB120"/>
<path d="M126.00,488.30 L127.00,488.30 L128.00,488.30 L129.00,488.30 L130.00,488.30 L131.00,488.30 L132.00,488.30 L133.00,488.30 L134.00,488.30 L135.00,488.30 L136.00,488.30 L137.00,488.30 L138.00,488.30 L139.00,488.30 L140.00,488.30 L141.00,488.30 L142.00,488.30 L143.00,488.30 L144.00,488.30 L145.00,488.30 L146.00,488.30 L147.00,488.30 L148.00,488.30 L149.00,488.30 L150.00,488.30 L151.00,488.30 L152.00,488.30 L153.00,488.30 L154.00,488.30 L155.00,488.30 L156.00,488.30 L157.00,488.30 L158.00,488.30 L159.00,488.30 L160.00,488.30 L161.00,488.30 L162.00,488.30 L163.00,488.30 L164.00,488.30 L165.00,488.30 L166.00,488.30 L167.00,488.30 L168.00,488.30 L169.00,488.30 L170.00,488.30 L171.00,488.30 L172.00,488.30 L173.00,488.30 L174.00,488.30 L175.00,488.30 L176.00,488.30 L177.00,488.30 L178.00,488.30 L179.00,488.30 L180.00,488.30 L181.00,488.30 L182.00,488.30 L183.00,488.30 L184.00,488.30 L185.00,488.30 L186.00,488.30 L187.00,488.30 L188.00,488.30 L189.00,488.30 L190.00,488.30 L191.00,488.30 L192.00,488.30 L193.00,488.30 L194.00,488.30 L195.00,488.30 L196.00,488.30 L197.00,488.30 L198.00,488.30 L199.00,488.30 L200.00,488.30 L201.00,488.30 L202.00,488.30 L203.00,488.30 L204.00,488.30 L205.00,488.30 L206.00,488.30 L207.00,488.30 L208.00,488.30 L209.00,488.30 L210.00,488.30 L211.00,488.30 L212.00,488.30 L213.00,488.30 L214.00,488.30 L215.00,488.30 L216.00,488.30 L217.00,488.30 L218.00,488.30 L219.00,488.30 L220.00,488.30 L221.00,488.30 L222.00,488.30 L223.00,488.30 L224.00,488.30 L225.00,488.30 L226.00,488.30 L227.00,488.30 L228.00,488.30 L229.00,488.30 L230.00,488.30 L231.00,488.30 L232.00,488.30 L233.00,488.30 L234.00,488.30 L235.00,488.30 L236.00,488.30 L237.00,488.30 L238.00,488.30 L239.00,488.30 L240.00,488.30 L241.00,488.30 L242.00,488.30 L243.00,488.30 L244.00,488.30 L245.00,488.30 L246.00,488.30 L247.00,488.30 L248.00,488.30 L249.00,488.30 L250.00,488.30 L251.00,488.30 L252.00,488.30 L253.00,488.30 L254.00,488.30 L255.00,488.30 L256.00,488.30 L257.00,488.30 L258.00,488.30 L259.00,488.30 L260.00,488.30 L261.00,488.30 L262.00,488.30 L263.00,488.30 L264.00,488.30 L265.00,488.30 L266.00,488.30 L267.00,488.30 L268.00,488.30 L269.00,488.30 L270.00,488.30 L271.00,488.30 L272.00,488.30 L273.00,488.30 L274.00,488.30 L275.00,488.30 L276.00,488.30 L277.00,488.30 L278.00,488.30 L279.00,488.30 L280.00,488.30 L281.00,488.30 L282.00,488.30 L283.00,488.30 L284.00,488.30 L285.00,488.30 L286.00,488.30 L287.00,488.30 L288.00,488.30 L289.00,488.30 L290.00,488.30 L291.00,488.30 L292.00,488.30 L293.00,488.30 L294.00,488.30 L295.00,488.30 L296.00,488.30 L297.00,488.30 L298.00,488.30 L299.00,488.30 L300.00,488.30 L301.00,488.30 L302.00,488.30 L303.00,488.30 L304.00,488.30 L305.00,488.30 L306.00,488.30 L307.00,488.30 L308.00,488.30 L309.00,488.30 L310.00,488.30 L311.00,488.30 L312.00,488.30 L313.00,488.30 L314.00,488.30 L315.00,488.30 L316.00,488.30 L317.00,488.30 L318.00,488.30 L319.00,488.30 L320.00,488.30 L321.00,488.30 L322.00,488.30 L323.00,488.30 L324.00,488.30 L325.00,488.30 L326.00,488.30 L327.00,488.30 L328.00,488.30 L329.00,488.30 L330.00,488.30 L331.00,488.30 L332.00,488.30 L333.00,488.30 L334.00,488.30 L335.00,488.30 L336.00,488.30 L337.00,488.30 L338.00,488.30 L339.00,488.30 L340.00,488.30 L341.00,488.30 L342.00,488.30 L343.00,488.30 L344.00,488.30 L345.00,488.30 L346.00,488.30 L347.00,488.30 L348.00,488.30 L349.00,488.30 L350.00,488.30 L351.00,488.30 L352.00,488.30 L353.00,488.30 L354.00,488.30 L355.00,488.30 L356.00,488.30 L357.00,488.30 L358.00,488.30 L359.00,488.30 L360.00,488.30 L361.00,488.30 L362.00,488.30 L363.00,488.30 L364.00,488.30 L365.00,488.30 L366.00,488.30 L367.00,488.30 L368.00,488.30 L369.00,488.30 L370.00,488.30 L371.00,488.30 L372.00,488.30 L373.00,488.30 L374.00,488.30 L375.00,488.30 L376.00,488.30 L377.00,488.30 L378.00,488.30 L379.00,488.30 L380.00,488.30 L381.00,488.30 L382.00,488.30 L383.00,488.30 L384.00,488.30 L385.00,488.30 L386.00,488.30 L387.00,488.30 L388.00,488.30 L389.00,488.30 L390.00,488.30 L391.00,488.30 L392.00,488.30 L393.00,488.30 L394.00,488.30 L395.00,488.30 L396.00,488.30 L397.00,488.30 L398.00,488.30 L399.00,488.30 L400.00,488.30 L401.00,488.30 L402.00,488.30 L403.00,488.30 L404.00,488.30 L405.00,488.30 L406.00,488.30 L407.00,488.30 L408.00,488.30 L409.00,488.30 L410.00,488.30 L411.00,488.30 L412.00,488.30 L413.00,488.30 L414.00,488.30 L415.00,488.30 L416.00,488.30 L417.00,488.30 L418.00,488.30 L419.00,488.30 L420.00,488.30 L421.00,488.30 L422.00,488.30 L423.00,488.30 L424.00,488.30 L425.00,488.30 L426.00,488.30 L427.00,488.30 L428.00,488.30 L429.00,488.30 L430.00,488.30 L431.00,488.30 L432.00,488.30 L433.00,488.30 L434.00,488.30 L435.00,488.30 L436.00,488.30 L437.00,488.30 L438.00,488.30 L439.00,488.30 L440.00,488.30 L441.00,488.30 L442.00,488.30 L443.00,488.30 L444.00,488.30 L445.00,488.30 L446.00,488.30 L447.00,488.30 L448.00,488.30 L449.00,488.30 L450.00,488.30 L451.00,488.30 L452.00,488.30 L453.00,488.30 L454.00,488.30 L455.00,488.30 L456.00,488.30 L457.00,488.30 L458.00,488.30 L459.00,488.30 L460.00,488.30 L461.00,488.30 L462.00,488.30 L463.00,488.30 L464.00,488.30 L465.00,488.30 L466.00,488.30 L467.00,488.30 L468.00,488.30 L469.00,488.30 L470.00,488.30 L471.00,488.30 L472.00,488.30 L473.00,488.30 L474.00,488.30 L475.00,488.30 L476.00,488.30 L477.00,488.30 L478.00,488.30 L479.00,488.30 L480.00,488.30 L481.00,488.30 L482.00,488.30 L483.00,488.30 L484.00,488.30 L485.00,488.30 L486.00,488.30 L487.00,488.30 L488.00,488.30 L489.00,488.30 L490.00,488.30 L491.00,488.30 L492.00,488.30 L493.00,488.30 L494.00,488.30 L495.00,488.30 L496.00,488.30 L497.00,488.30 L498.00,488.30 L499.00,488.30 L500.00,488.30 L501.00,488.30 L502.00,488.30 L503.00,488.30 L504.00,488.30 L505.00,488.30 L506.00,488.30 L507.00,488.30 L508.00,488.30 L509.00,488.30 L510.00,488.30 L511.00,488.30 L512.00,488.30 L513.00,488.30 L514.00,488.30 L515.00,488.30 L516.00,488.30 L517.00,488.30 L518.00,488.30 L519.00,488.30 L520.00,488.30 L521.00,488.30 L522.00,488.30 L523.00,488.30 L524.00,488.30 L525.00,488.30 L526.00,488.30 L527.00,488.30 L528.00,488.30 L529.00,488.30 L530.00,488.30 L531.00,488.30 L532.00,488.30 L533.00,488.30 L534.00,488.30 L535.00,488.30 L536.00,488.30 L537.00,488.30 L538.00,488.30 L539.00,488.30 L540.00,488.30 L541.00,488.30 L542.00,488.30 L543.00,488.30 L544.00,488.30 L545.00,488.30 L546.00,488.30 L547.00,488.30 L548.00,488.30 L549.00,488.30 L550.00,488.30 L551.00,488.30 L552.00,488.30 L553.00,488.30 L554.00,488.30 L555.00,488.30 L556.00,488.30 L557.00,488.30 L558.00,488.30 L559.00,488.30 L560.00,488.30 L561.00,488.30 L562.00,488.30 L563.00,488.30 L564.00,488.30 L565.00,488.30 L566.00,488.30 L567.00,488.30 L568.00,488.30 L569.00,488.30 L570.00,488.30 L571.00,488.30 L572.00,488.30 L573.00,488.30 L574.00,488.30 L575.00,488.30 L576.00,488.30 L577.00,488.30 L578.00,488.30 L579.00,488.30 L580.00,488.30 L581.00,488.30 L582.00,488.30 L583.00,488.30 L584.00,488.30 L585.00,488.30 L586.00,488.30 L587.00,488.30 L588.00,488.30 L589.00,488.30 L590.00,488.30 L591.00,488.30 L592.00,488.30 L593.00,488.30 L594.00,488.30 L595.00,488.30 L596.00,488.30 L597.00,488.30 L598.00,488.30 L599.00,488.30 L600.00,488.30 L601.00,488.30 L602.00,488.30 L603.00,488.30 L604.00,488.30 L605.00,488.30 L606.00,488.30 L607.00,488.30 L608.00,488.30 L609.00,488.30 L610.00,488.30 L611.00,488.30 L612.00,488.30 L613.00,488.30 L614.00,488.30 L615.00,488.30 L616.00,488.30 L617.00,488.30 L618.00,488.30 L619.00,488.30 L620.00,488.30 L621.00,488.30 L622.00,488.30 L623.00,488.30 L624.00,488.30 L625.00,488.30 L626.00,488.30 L627.00,488.30 L628.00,488.30 L629.00,488.30 L630.00,488.30 L631.00,488.30 L632.00,488.30 L633.00,488.30 L634.00,488.30 L635.00,488.30 L636.00,488.30 L637.00,488.30 L638.00,488.30 L639.00,488.30 L640.00,488.30 L641.00,488.30 L642.00,488.30 L643.00,488.30 L644.00,488.30 L645.00,488.30 L646.00,488.30 L647.00,488.30 L648.00,488.30 L649.00,488.30 L650.00,488.30 L651.00,488.30 L652.00,488.30 L653.00,488.30 L654.00,488.30 L655.00,488.30 L656.00,488.30 L657.00,488.30 L658.00,488.30 L659.00,488.30 L660.00,488.30 L661.00,488.30 L662.00,488.30 L663.00,488.30 L664.00,488.30 L665.00,488.30 L666.00,488.30 L667.00,488.30 L668.00,488.30 L669.00,488.30 L670.00,488.30 L671.00,488.30 L672.00,488.30 L673.00,488.30 L674.00,488.30 L675.00,488.30 L676.00,488.30 L677.00,488.30 L678.00,488.30 L679.00,488.30 L680.00,488.30 L681.00,488.30 L682.00,488.30 L683.00,488.30 L684.00,488.30 L685.00,488.30 L686.00,488.30 L687.00,488.30 L688.00,488.30 L689.00,488.30 L690.00,488.30 L691.00,488.30 L692.00,488.32 L693.00,488.34 L694.00,488.38 L695.00,488.42 L696.00,488.47 L697.00,488.54 L698.00,488.61 L699.00,488.69 L700.00,488.78 L701.00,488.89 L702.00,489.00 L703.00,489.12 L704.00,489.25 L705.00,489.39 L706.00,489.54 L707.00,489.70" stroke="#D95319" stroke-width="3.30"/>
<path d="M703.00,487.61 L704.00,487.53 L705.00,487.45 L706.00,487.36 L707.00,487.27 L708.00,487.17 L709.00,487.06 L710.00,486.96 L711.00,486.84 L712.00,486.73 L713.00,486.61 L714.00,486.48 L715.00,486.35 L716.00,486.22 L717.00,486.08 L718.00,485.94 L719.00,485.79 L720.00,485.65 L721.00,485.50 L722.00,485.35 L723.00,485.19 L724.00,485.04 L725.00,484.89 L726.00,484.73 L727.00,484.58 L728.00,484.42 L729.00,484.27 L730.00,484.12 L731.00,483.97 L732.00,483.83 L733.00,483.69 L734.00,483.55 L735.00,483.42 L736.00,483.30 L737.00,483.18 L738.00,483.07 L739.00,482.96 L740.00,482.87 L741.00,482.78 L742.00,482.70 L743.00,482.62 L744.00,482.56 L745.00,482.51 L746.00,482.47 L747.00,482.44 L748.00,482.41 L749.00,482.40 L750.00,482.40 L751.00,482.41 L752.00,482.43 L753.00,482.46 L754.00,482.50 L755.00,482.55 L756.00,482.61 L757.00,482.68 L758.00,482.76 L759.00,482.85 L760.00,482.94 L761.00,483.05 L762.00,483.16 L763.00,483.27 L764.00,483.40 L765.00,483.53 L766.00,483.66 L767.00,483.80 L768.00,483.95 L769.00,484.09 L770.00,484.24 L771.00,484.39 L772.00,484.55 L773.00,484.70 L774.00,484.85 L775.00,485.01 L776.00,485.16 L777.00,485.32 L778.00,485.47 L779.00,485.62 L780.00,485.77 L781.00,485.91 L782.00,486.05 L783.00,486.19 L784.00,486.32 L785.00,486.45 L786.00,486.58 L787.00,486.70 L788.00,486.82 L789.00,486.93 L790.00,487.04 L791.00,487.15 L792.00,487.25 L793.00,487.34 L794.00,487.43 L795.00,487.52 L796.00,487.60 L797.00,487.67 L798.00,487.75 L799.00,487.81 L800.00,487.88 L801.00,487.94 L802.00,487.99 L803.00,488.05 L804.00,488.09 L805.00,488.14 L806.00,488.18 L807.00,488.22 L808.00,488.25 L809.00,488.29 L810.00,488.32 L811.00,488.35 L812.00,488.37 L813.00,488.39 L814.00,488.41 L815.00,488.43 L816.00,488.45 L817.00,488.47 L818.00,488.48 L819.00,488.49 L820.00,488.51 L821.00,488.52 L822.00,488.53 L823.00,488.54 L824.00,488.54 L825.00,488.55 L826.00,488.56 L827.00,488.56 L828.00,488.57 L829.00,488.57 L830.00,488.57 L831.00,488.58 L832.00,488.58 L833.00,488.58 L834.00,488.59 L835.00,488.59 L836.00,488.59 L837.00,488.59 L838.00,488.59 L839.00,488.59 L840.00,488.59 L841.00,488.59 L842.00,488.60 L843.00,488.60 L844.00,488.60 L845.00,488.60 L846.00,488.60 L847.00,488.60 L848.00,488.60 L849.00,488.60 L850.00,488.60 L851.00,488.60 L852.00,488.60 L853.00,488.60 L854.00,488.60 L855.00,488.60 L856.00,488.60 L857.00,488.60 L858.00,488.60 L859.00,488.60 L860.00,488.60 L861.00,488.60 L862.00,488.60 L863.00,488.60 L864.00,488.60 L865.00,488.60 L866.00,488.60 L867.00,488.60 L868.00,488.60 L869.00,488.60 L870.00,488.60 L871.00,488.60 L872.00,488.60 L873.00,488.60 L874.00,488.60 L875.00,488.60 L876.00,488.60 L877.00,488.60 L878.00,488.60 L879.00,488.60 L880.00,488.60 L881.00,488.60 L882.00,488.60 L883.00,488.60 L884.00,488.60 L885.00,488.60 L886.00,488.60 L887.00,488.60 L888.00,488.60 L889.00,488.60 L890.00,488.60 L891.00,488.60 L892.00,488.60 L893.00,488.60 L894.00,488.60 L895.00,488.60 L896.00,488.60 L897.00,488.60 L898.00,488.60 L899.00,488.60 L900.00,488.60 L901.00,488.60 L902.00,488.60 L903.00,488.60 L904.00,488.60 L905.00,488.60 L906.00,488.60 L907.00,488.60 L908.00,488.60 L909.00,488.60 L910.00,488.60 L911.00,488.60 L912.00,488.60 L913.00,488.60 L914.00,488.60 L915.00,488.60 L916.00,488.60 L917.00,488.60 L918.00,488.60 L919.00,488.60 L920.00,488.60 L921.00,488.60 L922.00,488.60 L923.00,488.60 L924.00,488.60 L925.00,488.60 L926.00,488.60 L927.00,488.60 L928.00,488.60 L929.00,488.60 L930.00,488.60 L931.00,488.60 L932.00,488.60 L933.00,488.60 L934.00,488.60 L935.00,488.60 L936.00,488.60 L937.00,488.60 L938.00,488.60 L939.00,488.60 L940.00,488.60 L941.00,488.60 L942.00,488.60 L943.00,488.60 L944.00,488.60 L945.00,488.60 L946.00,488.60 L947.00,488.60 L948.00,488.60 L949.00,488.60 L950.00,488.60 L951.00,488.60 L952.00,488.60 L953.00,488.60 L954.00,488.60 L955.00,488.60 L956.00,488.60 L957.00,488.60 L958.00,488.60 L959.00,488.60 L960.00,488.60 L961.00,488.60 L962.00,488.60 L963.00,488.60 L964.00,488.60 L965.00,488.60 L966.00,488.60 L967.00,488.60 L968.00,488.60" stroke="#D95319" stroke-width="3.30"/>
<path d="M778.00,489.45 L779.00,489.43 L780.00,489.42 L780.99,489.40 L781.99,489.38 L782.99,489.36 L783.99,489.34 L784.99,489.31 L785.99,489.29 L786.98,489.26 L787.98,489.23 L788.98,489.21 L789.98,489.18 L790.98,489.15 L791.98,489.12 L792.97,489.09 L793.97,489.06 L794.97,489.02 L795.97,489.00 L796.97,488.97 L797.97,488.94 L798.96,488.91 L799.96,488.88 L800.96,488.85 L801.96,488.83 L802.96,488.80 L803.96,488.78 L804.95,488.76 L805.95,488.73 L806.95,488.71 L807.95,488.69 L808.95,488.67 L809.95,488.65 L810.94,488.64 L811.94,488.62 L812.94,488.61 L813.94,488.59 L814.94,488.58 L815.94,488.56 L816.93,488.55 L817.93,488.54 L818.93,488.53 L819.93,488.52 L820.93,488.51 L821.93,488.50 L822.92,488.50 L823.92,488.49 L824.92,488.48 L825.92,488.48 L826.92,488.47 L827.92,488.47 L828.91,488.46 L829.91,488.46 L830.91,488.45 L831.91,488.45 L832.91,488.44 L833.91,488.44 L834.90,488.44 L835.90,488.43 L836.90,488.43" stroke="#EDB120"/>
</g>
<g stroke="#000" stroke-width="0.30">
<text transform="translate(139.31 537.40) scale(0.9548 1)" font-size="31.00">1000</text>
<text transform="translate(323.97 537.40) scale(0.9691 1)" font-size="31.00">1100</text>
<text transform="translate(508.41 537.40) scale(0.9548 1)" font-size="31.00">1200</text>
<text transform="translate(693.38 537.40) scale(0.9669 1)" font-size="31.00">1300</text>
<text transform="translate(878.41 537.40) scale(0.9548 1)" font-size="31.00">1400</text>
<text transform="translate(35.42 87.20) scale(0.9450 1)" font-size="31.00">5</text>
<text transform="translate(35.60 170.10) scale(0.9450 1)" font-size="31.00">4</text>
<text transform="translate(35.57 252.00) scale(0.9450 1)" font-size="31.00">3</text>
<text transform="translate(35.86 334.60) scale(0.9450 1)" font-size="31.00">2</text>
<text transform="translate(35.27 416.30) scale(0.9450 1)" font-size="31.00">1</text>
<text transform="translate(35.68 501.00) scale(0.9450 1)" font-size="31.00">0</text>
<text transform="translate(409.31 574.00) scale(0.9674 1)" font-size="35.00">Sampling Point</text>
<text transform="translate(27.60 408.15) rotate(-90) scale(1.0500 1)" font-size="33.00">Amplitude(kV)</text>
<text x="460.60" y="660.40" font-size="43.00">(<tspan font-weight="bold">a</tspan>)</text>
</g>
<clipPath id="clipb"><rect x="1079.00" y="3.90" width="930.60" height="501.60"/></clipPath>
<g fill="none" stroke="#262626" stroke-linecap="round">
<path stroke-linecap="butt" stroke-width="3.00" d="M1079.00,3.90H2009.50"/>
<path stroke-linecap="butt" stroke-width="3.00" d="M1079.00,505.50H2009.50"/>
<path stroke-linecap="butt" stroke-width="3.00" d="M1080.50,2.40V507.00"/>
<path stroke-linecap="butt" stroke-width="3.20" d="M2007.90,2.40V507.00"/>
<path stroke-width="3.00" d="M1100.50,505.50V496.00M1256.50,505.50V496.00M1412.50,505.50V496.00M1568.60,505.50V496.00M1724.60,505.50V496.00M1880.60,505.50V496.00M1100.50,3.90V13.40M1256.50,3.90V13.40M1412.50,3.90V13.40M1568.60,3.90V13.40M1724.60,3.90V13.40M1880.60,3.90V13.40M1080.50,31.40H1089.80M1080.50,108.50H1089.80M1080.50,185.60H1089.80M1080.50,262.70H1089.80M1080.50,339.70H1089.80M1080.50,416.80H1089.80M2007.90,31.40H1998.60M2007.90,108.50H1998.60M2007.90,185.60H1998.60M2007.90,262.70H1998.60M2007.90,339.70H1998.60M2007.90,416.80H1998.60M2007.90,493.90H1998.60"/>
</g>
<g fill="none" stroke-width="3.00" stroke-linecap="round" stroke-linejoin="round" clip-path="url(#clipb)">
<path d="M1194.20,492.86 L1195.20,492.65 L1196.20,492.41 L1197.21,492.13 L1198.21,491.80 L1199.21,491.41 L1200.21,490.97 L1201.22,490.45 L1202.22,489.85 L1203.22,489.15 L1204.22,488.36 L1205.23,487.45 L1206.23,486.41 L1207.23,485.22 L1208.23,483.87 L1209.23,482.35 L1210.24,480.62 L1211.24,478.69 L1212.24,476.51 L1213.24,474.07 L1214.25,471.36 L1215.25,468.34 L1216.25,464.99 L1217.25,461.29 L1218.26,457.22 L1219.26,452.74 L1220.26,447.84 L1221.26,442.50 L1222.27,436.69 L1223.27,430.38 L1224.27,423.58 L1225.27,416.24 L1226.27,408.38 L1227.28,399.96 L1228.28,390.99 L1229.28,381.46 L1230.28,371.38 L1231.29,360.74 L1232.29,349.57 L1233.29,337.87 L1234.29,325.67 L1235.30,313.00 L1236.30,299.90 L1237.30,286.39 L1238.30,272.53 L1239.30,258.37 L1240.31,243.98 L1241.31,229.40 L1242.31,214.72 L1243.31,200.01 L1244.32,185.34 L1245.32,170.79 L1246.32,156.46 L1247.32,142.43 L1248.33,128.78 L1249.33,115.61 L1250.33,103.01 L1251.33,91.05 L1252.33,79.84 L1253.34,69.44 L1254.34,59.93 L1255.34,51.38 L1256.34,43.87 L1257.35,37.44 L1258.35,32.14 L1259.35,28.02 L1260.35,25.12 L1261.36,23.44 L1262.36,23.02 L1263.36,23.84 L1264.36,25.90 L1265.37,29.19 L1266.37,33.69 L1267.37,39.34 L1268.37,46.12 L1269.37,53.97 L1270.38,62.83 L1271.38,72.62 L1272.38,83.29 L1273.38,94.75 L1274.39,106.92 L1275.39,119.71 L1276.39,133.04 L1277.39,146.82 L1278.40,160.95 L1279.40,175.36 L1280.40,189.95 L1281.40,204.65 L1282.40,219.36 L1283.41,234.02 L1284.41,248.54 L1285.41,262.87 L1286.41,276.94 L1287.42,290.69 L1288.42,304.08 L1289.42,317.05 L1290.42,329.57 L1291.43,341.62 L1292.43,353.15 L1293.43,364.16 L1294.43,374.62 L1295.43,384.53 L1296.44,393.88 L1297.44,402.67 L1298.44,410.92 L1299.44,418.61 L1300.45,425.78 L1301.45,432.43 L1302.45,438.57 L1303.45,444.23 L1304.46,449.44 L1305.46,454.20 L1306.46,458.54 L1307.46,462.50 L1308.47,466.08 L1309.47,469.33 L1310.47,472.25 L1311.47,474.87 L1312.47,477.22 L1313.48,479.32 L1314.48,481.19 L1315.48,482.85 L1316.48,484.32 L1317.49,485.61 L1318.49,486.75 L1319.49,487.75 L1320.49,488.62 L1321.50,489.38 L1322.50,490.05 L1323.50,490.62" stroke="#0072BD"/>
<path d="M1247.30,493.24 L1248.30,493.11 L1249.30,492.96 L1250.31,492.79 L1251.31,492.58 L1252.31,492.34 L1253.31,492.06 L1254.32,491.73 L1255.32,491.35 L1256.32,490.92 L1257.32,490.42 L1258.33,489.84 L1259.33,489.19 L1260.33,488.44 L1261.33,487.60 L1262.33,486.64 L1263.34,485.55 L1264.34,484.33 L1265.34,482.96 L1266.34,481.43 L1267.35,479.73 L1268.35,477.83 L1269.35,475.72 L1270.35,473.40 L1271.36,470.83 L1272.36,468.02 L1273.36,464.94 L1274.36,461.58 L1275.37,457.92 L1276.37,453.96 L1277.37,449.68 L1278.37,445.07 L1279.37,440.12 L1280.38,434.83 L1281.38,429.19 L1282.38,423.20 L1283.38,416.86 L1284.39,410.17 L1285.39,403.14 L1286.39,395.79 L1287.39,388.12 L1288.40,380.15 L1289.40,371.91 L1290.40,363.42 L1291.40,354.70 L1292.40,345.80 L1293.41,336.75 L1294.41,327.59 L1295.41,318.35 L1296.41,309.10 L1297.42,299.88 L1298.42,290.73 L1299.42,281.72 L1300.42,272.90 L1301.43,264.32 L1302.43,256.03 L1303.43,248.11 L1304.43,240.59 L1305.43,233.54 L1306.44,227.00 L1307.44,221.02 L1308.44,215.65 L1309.44,210.92 L1310.45,206.88 L1311.45,203.55 L1312.45,200.96 L1313.45,199.13 L1314.46,198.08 L1315.46,197.81 L1316.46,198.33 L1317.46,199.62 L1318.47,201.69 L1319.47,204.52 L1320.47,208.08 L1321.47,212.34 L1322.47,217.27 L1323.48,222.84 L1324.48,229.00 L1325.48,235.71 L1326.48,242.92 L1327.49,250.57 L1328.49,258.61 L1329.49,266.99 L1330.49,275.66 L1331.50,284.55 L1332.50,293.60 L1333.50,302.78 L1334.50,312.02 L1335.50,321.27 L1336.51,330.49 L1337.51,339.62 L1338.51,348.63 L1339.51,357.48 L1340.52,366.12 L1341.52,374.54 L1342.52,382.70 L1343.52,390.57 L1344.53,398.14 L1345.53,405.40 L1346.53,412.32 L1347.53,418.90 L1348.53,425.13 L1349.54,431.01 L1350.54,436.54 L1351.54,441.72 L1352.54,446.56 L1353.55,451.07 L1354.55,455.25 L1355.55,459.11 L1356.55,462.67 L1357.56,465.94 L1358.56,468.94 L1359.56,471.67 L1360.56,474.15 L1361.57,476.41 L1362.57,478.45 L1363.57,480.28 L1364.57,481.94 L1365.57,483.41 L1366.58,484.73 L1367.58,485.91 L1368.58,486.95 L1369.58,487.87 L1370.59,488.69 L1371.59,489.40 L1372.59,490.03 L1373.59,490.58 L1374.60,491.06 L1375.60,491.48 L1376.60,491.84" stroke="#EDB120"/>
<path d="M1300.50,493.48 L1301.50,493.40 L1302.50,493.31 L1303.51,493.20 L1304.51,493.06 L1305.51,492.91 L1306.51,492.73 L1307.52,492.53 L1308.52,492.29 L1309.52,492.01 L1310.52,491.70 L1311.53,491.33 L1312.53,490.92 L1313.53,490.45 L1314.53,489.91 L1315.53,489.31 L1316.54,488.62 L1317.54,487.85 L1318.54,486.98 L1319.54,486.01 L1320.55,484.93 L1321.55,483.73 L1322.55,482.40 L1323.55,480.93 L1324.56,479.31 L1325.56,477.53 L1326.56,475.58 L1327.56,473.45 L1328.57,471.14 L1329.57,468.64 L1330.57,465.93 L1331.57,463.01 L1332.57,459.88 L1333.58,456.54 L1334.58,452.97 L1335.58,449.18 L1336.58,445.17 L1337.59,440.94 L1338.59,436.49 L1339.59,431.84 L1340.59,426.99 L1341.60,421.95 L1342.60,416.73 L1343.60,411.36 L1344.60,405.85 L1345.60,400.22 L1346.61,394.49 L1347.61,388.70 L1348.61,382.86 L1349.61,377.00 L1350.62,371.17 L1351.62,365.38 L1352.62,359.68 L1353.62,354.10 L1354.63,348.67 L1355.63,343.44 L1356.63,338.42 L1357.63,333.67 L1358.63,329.21 L1359.64,325.07 L1360.64,321.29 L1361.64,317.89 L1362.64,314.90 L1363.65,312.34 L1364.65,310.24 L1365.65,308.60 L1366.65,307.44 L1367.66,306.78 L1368.66,306.61 L1369.66,306.93 L1370.66,307.75 L1371.67,309.06 L1372.67,310.85 L1373.67,313.10 L1374.67,315.80 L1375.67,318.92 L1376.68,322.44 L1377.68,326.34 L1378.68,330.58 L1379.68,335.14 L1380.69,339.98 L1381.69,345.07 L1382.69,350.37 L1383.69,355.85 L1384.70,361.47 L1385.70,367.20 L1386.70,373.01 L1387.70,378.85 L1388.70,384.70 L1389.71,390.53 L1390.71,396.31 L1391.71,402.01 L1392.71,407.60 L1393.72,413.07 L1394.72,418.40 L1395.72,423.56 L1396.72,428.54 L1397.73,433.33 L1398.73,437.92 L1399.73,442.29 L1400.73,446.46 L1401.73,450.40 L1402.74,454.12 L1403.74,457.62 L1404.74,460.89 L1405.74,463.96 L1406.75,466.81 L1407.75,469.45 L1408.75,471.89 L1409.75,474.15 L1410.76,476.21 L1411.76,478.11 L1412.76,479.84 L1413.76,481.41 L1414.77,482.84 L1415.77,484.13 L1416.77,485.29 L1417.77,486.33 L1418.77,487.27 L1419.78,488.10 L1420.78,488.84 L1421.78,489.50 L1422.78,490.09 L1423.79,490.60 L1424.79,491.06 L1425.79,491.45 L1426.79,491.80 L1427.80,492.10 L1428.80,492.37 L1429.80,492.60" stroke="#7E2F8E"/>
<path d="M1353.70,493.64 L1354.70,493.58 L1355.70,493.52 L1356.71,493.45 L1357.71,493.37 L1358.71,493.27 L1359.71,493.16 L1360.72,493.03 L1361.72,492.88 L1362.72,492.70 L1363.72,492.50 L1364.73,492.27 L1365.73,492.01 L1366.73,491.71 L1367.73,491.37 L1368.73,490.98 L1369.74,490.55 L1370.74,490.06 L1371.74,489.51 L1372.74,488.89 L1373.75,488.20 L1374.75,487.44 L1375.75,486.59 L1376.75,485.66 L1377.76,484.63 L1378.76,483.50 L1379.76,482.26 L1380.76,480.91 L1381.77,479.44 L1382.77,477.85 L1383.77,476.13 L1384.77,474.28 L1385.77,472.29 L1386.78,470.16 L1387.78,467.89 L1388.78,465.49 L1389.78,462.94 L1390.79,460.25 L1391.79,457.43 L1392.79,454.47 L1393.79,451.39 L1394.80,448.19 L1395.80,444.87 L1396.80,441.46 L1397.80,437.96 L1398.80,434.38 L1399.81,430.74 L1400.81,427.06 L1401.81,423.35 L1402.81,419.63 L1403.82,415.92 L1404.82,412.25 L1405.82,408.63 L1406.82,405.08 L1407.83,401.63 L1408.83,398.30 L1409.83,395.12 L1410.83,392.10 L1411.83,389.26 L1412.84,386.63 L1413.84,384.23 L1414.84,382.07 L1415.84,380.17 L1416.85,378.55 L1417.85,377.21 L1418.85,376.17 L1419.85,375.44 L1420.86,375.01 L1421.86,374.90 L1422.86,375.11 L1423.86,375.63 L1424.87,376.47 L1425.87,377.60 L1426.87,379.03 L1427.87,380.74 L1428.87,382.73 L1429.88,384.96 L1430.88,387.44 L1431.88,390.14 L1432.88,393.03 L1433.89,396.11 L1434.89,399.34 L1435.89,402.71 L1436.89,406.19 L1437.90,409.76 L1438.90,413.40 L1439.90,417.09 L1440.90,420.80 L1441.90,424.52 L1442.91,428.23 L1443.91,431.90 L1444.91,435.52 L1445.91,439.07 L1446.92,442.55 L1447.92,445.93 L1448.92,449.21 L1449.92,452.37 L1450.93,455.42 L1451.93,458.33 L1452.93,461.11 L1453.93,463.76 L1454.93,466.26 L1455.94,468.62 L1456.94,470.85 L1457.94,472.93 L1458.94,474.87 L1459.95,476.69 L1460.95,478.37 L1461.95,479.92 L1462.95,481.35 L1463.96,482.66 L1464.96,483.87 L1465.96,484.97 L1466.96,485.96 L1467.97,486.87 L1468.97,487.69 L1469.97,488.43 L1470.97,489.09 L1471.97,489.69 L1472.98,490.22 L1473.98,490.69 L1474.98,491.11 L1475.98,491.48 L1476.99,491.81 L1477.99,492.09 L1478.99,492.35 L1479.99,492.57 L1481.00,492.76 L1482.00,492.93 L1483.00,493.07" stroke="#77AC30"/>
<path d="M1406.90,493.73 L1407.90,493.70 L1408.90,493.66 L1409.91,493.61 L1410.91,493.56 L1411.91,493.50 L1412.91,493.43 L1413.92,493.34 L1414.92,493.24 L1415.92,493.13 L1416.92,493.00 L1417.93,492.86 L1418.93,492.69 L1419.93,492.50 L1420.93,492.28 L1421.93,492.03 L1422.94,491.75 L1423.94,491.44 L1424.94,491.09 L1425.94,490.70 L1426.95,490.26 L1427.95,489.77 L1428.95,489.23 L1429.95,488.63 L1430.96,487.97 L1431.96,487.25 L1432.96,486.46 L1433.96,485.59 L1434.97,484.65 L1435.97,483.64 L1436.97,482.54 L1437.97,481.35 L1438.97,480.08 L1439.98,478.72 L1440.98,477.27 L1441.98,475.73 L1442.98,474.10 L1443.99,472.38 L1444.99,470.58 L1445.99,468.68 L1446.99,466.71 L1448.00,464.67 L1449.00,462.55 L1450.00,460.37 L1451.00,458.13 L1452.00,455.84 L1453.01,453.51 L1454.01,451.16 L1455.01,448.78 L1456.01,446.41 L1457.02,444.03 L1458.02,441.68 L1459.02,439.37 L1460.02,437.10 L1461.03,434.89 L1462.03,432.77 L1463.03,430.73 L1464.03,428.80 L1465.03,426.99 L1466.04,425.30 L1467.04,423.77 L1468.04,422.39 L1469.04,421.17 L1470.05,420.13 L1471.05,419.28 L1472.05,418.61 L1473.05,418.14 L1474.06,417.87 L1475.06,417.80 L1476.06,417.94 L1477.06,418.27 L1478.07,418.80 L1479.07,419.53 L1480.07,420.44 L1481.07,421.54 L1482.07,422.80 L1483.08,424.24 L1484.08,425.82 L1485.08,427.54 L1486.08,429.40 L1487.09,431.36 L1488.09,433.43 L1489.09,435.58 L1490.09,437.81 L1491.10,440.09 L1492.10,442.42 L1493.10,444.78 L1494.10,447.16 L1495.10,449.53 L1496.11,451.90 L1497.11,454.25 L1498.11,456.56 L1499.11,458.84 L1500.12,461.06 L1501.12,463.22 L1502.12,465.32 L1503.12,467.34 L1504.13,469.29 L1505.13,471.15 L1506.13,472.93 L1507.13,474.62 L1508.13,476.22 L1509.14,477.74 L1510.14,479.16 L1511.14,480.49 L1512.14,481.73 L1513.15,482.89 L1514.15,483.97 L1515.15,484.96 L1516.15,485.87 L1517.16,486.71 L1518.16,487.48 L1519.16,488.19 L1520.16,488.83 L1521.17,489.40 L1522.17,489.93 L1523.17,490.40 L1524.17,490.82 L1525.17,491.20 L1526.18,491.54 L1527.18,491.85 L1528.18,492.11 L1529.18,492.35 L1530.19,492.56 L1531.19,492.74 L1532.19,492.91 L1533.19,493.05 L1534.20,493.17 L1535.20,493.28 L1536.20,493.37" stroke="#4DBEEE"/>
<path d="M1460.10,493.79 L1461.10,493.77 L1462.10,493.75 L1463.11,493.72 L1464.11,493.69 L1465.11,493.65 L1466.11,493.60 L1467.12,493.55 L1468.12,493.49 L1469.12,493.42 L1470.12,493.33 L1471.13,493.24 L1472.13,493.13 L1473.13,493.01 L1474.13,492.88 L1475.13,492.72 L1476.14,492.54 L1477.14,492.35 L1478.14,492.12 L1479.14,491.87 L1480.15,491.60 L1481.15,491.29 L1482.15,490.95 L1483.15,490.57 L1484.16,490.15 L1485.16,489.70 L1486.16,489.20 L1487.16,488.65 L1488.17,488.06 L1489.17,487.41 L1490.17,486.72 L1491.17,485.97 L1492.17,485.16 L1493.18,484.30 L1494.18,483.39 L1495.18,482.41 L1496.18,481.38 L1497.19,480.30 L1498.19,479.16 L1499.19,477.96 L1500.19,476.72 L1501.20,475.42 L1502.20,474.08 L1503.20,472.70 L1504.20,471.29 L1505.20,469.84 L1506.21,468.37 L1507.21,466.88 L1508.21,465.38 L1509.21,463.88 L1510.22,462.38 L1511.22,460.90 L1512.22,459.43 L1513.22,458.00 L1514.23,456.61 L1515.23,455.26 L1516.23,453.97 L1517.23,452.75 L1518.23,451.61 L1519.24,450.54 L1520.24,449.57 L1521.24,448.70 L1522.24,447.93 L1523.25,447.27 L1524.25,446.73 L1525.25,446.31 L1526.25,446.02 L1527.26,445.85 L1528.26,445.80 L1529.26,445.89 L1530.26,446.10 L1531.27,446.43 L1532.27,446.89 L1533.27,447.47 L1534.27,448.16 L1535.27,448.96 L1536.28,449.87 L1537.28,450.87 L1538.28,451.96 L1539.28,453.13 L1540.29,454.37 L1541.29,455.68 L1542.29,457.04 L1543.29,458.45 L1544.30,459.89 L1545.30,461.36 L1546.30,462.85 L1547.30,464.35 L1548.30,465.86 L1549.31,467.35 L1550.31,468.84 L1551.31,470.30 L1552.31,471.74 L1553.32,473.14 L1554.32,474.51 L1555.32,475.84 L1556.32,477.12 L1557.33,478.35 L1558.33,479.52 L1559.33,480.65 L1560.33,481.72 L1561.33,482.73 L1562.34,483.68 L1563.34,484.58 L1564.34,485.42 L1565.34,486.21 L1566.35,486.94 L1567.35,487.62 L1568.35,488.25 L1569.35,488.83 L1570.36,489.36 L1571.36,489.84 L1572.36,490.29 L1573.36,490.69 L1574.37,491.06 L1575.37,491.39 L1576.37,491.69 L1577.37,491.96 L1578.37,492.20 L1579.38,492.41 L1580.38,492.60 L1581.38,492.77 L1582.38,492.92 L1583.39,493.05 L1584.39,493.17 L1585.39,493.27 L1586.39,493.36 L1587.40,493.44 L1588.40,493.51 L1589.40,493.56" stroke="#A2142F"/>
<path d="M1513.30,493.83 L1514.30,493.82 L1515.30,493.80 L1516.31,493.78 L1517.31,493.76 L1518.31,493.74 L1519.31,493.71 L1520.32,493.67 L1521.32,493.63 L1522.32,493.59 L1523.32,493.54 L1524.33,493.48 L1525.33,493.41 L1526.33,493.33 L1527.33,493.24 L1528.33,493.14 L1529.34,493.03 L1530.34,492.90 L1531.34,492.76 L1532.34,492.60 L1533.35,492.42 L1534.35,492.22 L1535.35,492.00 L1536.35,491.76 L1537.36,491.49 L1538.36,491.20 L1539.36,490.88 L1540.36,490.53 L1541.37,490.15 L1542.37,489.73 L1543.37,489.29 L1544.37,488.80 L1545.37,488.29 L1546.38,487.74 L1547.38,487.15 L1548.38,486.52 L1549.38,485.86 L1550.39,485.16 L1551.39,484.43 L1552.39,483.66 L1553.39,482.86 L1554.40,482.03 L1555.40,481.17 L1556.40,480.28 L1557.40,479.37 L1558.40,478.45 L1559.41,477.50 L1560.41,476.54 L1561.41,475.58 L1562.41,474.61 L1563.42,473.65 L1564.42,472.70 L1565.42,471.76 L1566.42,470.84 L1567.43,469.94 L1568.43,469.08 L1569.43,468.25 L1570.43,467.47 L1571.43,466.73 L1572.44,466.05 L1573.44,465.42 L1574.44,464.86 L1575.44,464.37 L1576.45,463.95 L1577.45,463.60 L1578.45,463.33 L1579.45,463.14 L1580.46,463.03 L1581.46,463.00 L1582.46,463.05 L1583.46,463.19 L1584.47,463.41 L1585.47,463.70 L1586.47,464.07 L1587.47,464.52 L1588.47,465.03 L1589.48,465.61 L1590.48,466.26 L1591.48,466.96 L1592.48,467.71 L1593.49,468.51 L1594.49,469.35 L1595.49,470.22 L1596.49,471.12 L1597.50,472.05 L1598.50,473.00 L1599.50,473.96 L1600.50,474.92 L1601.50,475.89 L1602.51,476.85 L1603.51,477.80 L1604.51,478.74 L1605.51,479.66 L1606.52,480.57 L1607.52,481.44 L1608.52,482.30 L1609.52,483.12 L1610.53,483.91 L1611.53,484.66 L1612.53,485.39 L1613.53,486.07 L1614.53,486.72 L1615.54,487.34 L1616.54,487.91 L1617.54,488.45 L1618.54,488.96 L1619.55,489.43 L1620.55,489.87 L1621.55,490.27 L1622.55,490.64 L1623.56,490.98 L1624.56,491.29 L1625.56,491.58 L1626.56,491.84 L1627.57,492.07 L1628.57,492.29 L1629.57,492.48 L1630.57,492.65 L1631.57,492.81 L1632.58,492.94 L1633.58,493.07 L1634.58,493.17 L1635.58,493.27 L1636.59,493.36 L1637.59,493.43 L1638.59,493.50 L1639.59,493.55 L1640.60,493.60 L1641.60,493.65 L1642.60,493.68" stroke="#0072BD"/>
<path d="M1075.00,493.90 L1076.00,493.90 L1077.00,493.90 L1078.00,493.90 L1079.00,493.90 L1080.00,493.90 L1081.00,493.90 L1082.00,493.90 L1083.00,493.90 L1084.00,493.90 L1085.00,493.90 L1086.00,493.90 L1087.00,493.90 L1088.00,493.90 L1089.00,493.90 L1090.00,493.90 L1091.00,493.90 L1092.00,493.90 L1093.00,493.90 L1094.00,493.90 L1095.00,493.90 L1096.00,493.90 L1097.00,493.90 L1098.00,493.90 L1099.00,493.90 L1100.00,493.90 L1101.00,493.90 L1102.00,493.90 L1103.00,493.90 L1104.00,493.90 L1105.00,493.90 L1106.00,493.90 L1107.00,493.90 L1108.00,493.90 L1109.00,493.90 L1110.00,493.90 L1111.00,493.90 L1112.00,493.90 L1113.00,493.90 L1114.00,493.90 L1115.00,493.90 L1116.00,493.90 L1117.00,493.90 L1118.00,493.90 L1119.00,493.90 L1120.00,493.90 L1121.00,493.90 L1122.00,493.90 L1123.00,493.90 L1124.00,493.90 L1125.00,493.90 L1126.00,493.90 L1127.00,493.90 L1128.00,493.90 L1129.00,493.90 L1130.00,493.90 L1131.00,493.90 L1132.00,493.90 L1133.00,493.90 L1134.00,493.90 L1135.00,493.90 L1136.00,493.90 L1137.00,493.90 L1138.00,493.90 L1139.00,493.90 L1140.00,493.90 L1141.00,493.90 L1142.00,493.90 L1143.00,493.90 L1144.00,493.90 L1145.00,493.90 L1146.00,493.90 L1147.00,493.90 L1148.00,493.90 L1149.00,493.90 L1150.00,493.90 L1151.00,493.90 L1152.00,493.90 L1153.00,493.90 L1154.00,493.90 L1155.00,493.90 L1156.00,493.90 L1157.00,493.90 L1158.00,493.90 L1159.00,493.90 L1160.00,493.90 L1161.00,493.90 L1162.00,493.90 L1163.00,493.90 L1164.00,493.90 L1165.00,493.90 L1166.00,493.90 L1167.00,493.90 L1168.00,493.90 L1169.00,493.90 L1170.00,493.90 L1171.00,493.90 L1172.00,493.90 L1173.00,493.90 L1174.00,493.90 L1175.00,493.90 L1176.00,493.90 L1177.00,493.90 L1178.00,493.90 L1179.00,493.90 L1180.00,493.90 L1181.00,493.90 L1182.00,493.90 L1183.00,493.90 L1184.00,493.90 L1185.00,493.90 L1186.00,493.90 L1187.00,493.90 L1188.00,493.90 L1189.00,493.90 L1190.00,493.90 L1191.00,493.90 L1192.00,493.90 L1193.00,493.90 L1194.00,493.90 L1195.00,493.90 L1196.00,493.90 L1197.00,493.90 L1198.00,493.90 L1199.00,493.90 L1200.00,493.90 L1201.00,493.90 L1202.00,493.90 L1203.00,493.90 L1204.00,493.90 L1205.00,493.90 L1206.00,493.90 L1207.00,493.90 L1208.00,493.90 L1209.00,493.90 L1210.00,493.90 L1211.00,493.90 L1212.00,493.90 L1213.00,493.90 L1214.00,493.90 L1215.00,493.90 L1216.00,493.90 L1217.00,493.90 L1218.00,493.90 L1219.00,493.90 L1220.00,493.90 L1221.00,493.90 L1222.00,493.90 L1223.00,493.90 L1224.00,493.90 L1225.00,493.90 L1226.00,493.90 L1227.00,493.90 L1228.00,493.90 L1229.00,493.90 L1230.00,493.90 L1231.00,493.90 L1232.00,493.90 L1233.00,493.90 L1234.00,493.90 L1235.00,493.90 L1236.00,493.90 L1237.00,493.90 L1238.00,493.90 L1239.00,493.90 L1240.00,493.90 L1241.00,493.90 L1242.00,493.90 L1243.00,493.90 L1244.00,493.90 L1245.00,493.90 L1246.00,493.90 L1247.00,493.90 L1248.00,493.90 L1249.00,493.90 L1250.00,493.90 L1251.00,493.90 L1252.00,493.90 L1253.00,493.90 L1254.00,493.90 L1255.00,493.90 L1256.00,493.90 L1257.00,493.90 L1258.00,493.90 L1259.00,493.90 L1260.00,493.90 L1261.00,493.90 L1262.00,493.90 L1263.00,493.90 L1264.00,493.90 L1265.00,493.90 L1266.00,493.90 L1267.00,493.90 L1268.00,493.90 L1269.00,493.90 L1270.00,493.90 L1271.00,493.90 L1272.00,493.90 L1273.00,493.90 L1274.00,493.90 L1275.00,493.90 L1276.00,493.90 L1277.00,493.90 L1278.00,493.90 L1279.00,493.90 L1280.00,493.90 L1281.00,493.90 L1282.00,493.90 L1283.00,493.90 L1284.00,493.90 L1285.00,493.90 L1286.00,493.90 L1287.00,493.90 L1288.00,493.90 L1289.00,493.90 L1290.00,493.90 L1291.00,493.90 L1292.00,493.90 L1293.00,493.90 L1294.00,493.90 L1295.00,493.90 L1296.00,493.90 L1297.00,493.90 L1298.00,493.90 L1299.00,493.90 L1300.00,493.90 L1301.00,493.90 L1302.00,493.90 L1303.00,493.90 L1304.00,493.90 L1305.00,493.90 L1306.00,493.90 L1307.00,493.90 L1308.00,493.90 L1309.00,493.90 L1310.00,493.90 L1311.00,493.90 L1312.00,493.90 L1313.00,493.90 L1314.00,493.90 L1315.00,493.90 L1316.00,493.90 L1317.00,493.90 L1318.00,493.90 L1319.00,493.90 L1320.00,493.90 L1321.00,493.90 L1322.00,493.90 L1323.00,493.90 L1324.00,493.90 L1325.00,493.90 L1326.00,493.90 L1327.00,493.90 L1328.00,493.90 L1329.00,493.90 L1330.00,493.90 L1331.00,493.90 L1332.00,493.90 L1333.00,493.90 L1334.00,493.90 L1335.00,493.90 L1336.00,493.90 L1337.00,493.90 L1338.00,493.90 L1339.00,493.90 L1340.00,493.90 L1341.00,493.90 L1342.00,493.90 L1343.00,493.90 L1344.00,493.90 L1345.00,493.90 L1346.00,493.90 L1347.00,493.90 L1348.00,493.90 L1349.00,493.90 L1350.00,493.90 L1351.00,493.90 L1352.00,493.90 L1353.00,493.90 L1354.00,493.90 L1355.00,493.90 L1356.00,493.90 L1357.00,493.90 L1358.00,493.90 L1359.00,493.90 L1360.00,493.90 L1361.00,493.90 L1362.00,493.90 L1363.00,493.90 L1364.00,493.90 L1365.00,493.90 L1366.00,493.90 L1367.00,493.90 L1368.00,493.90 L1369.00,493.90 L1370.00,493.90 L1371.00,493.90 L1372.00,493.90 L1373.00,493.90 L1374.00,493.90 L1375.00,493.90 L1376.00,493.90 L1377.00,493.90 L1378.00,493.90 L1379.00,493.90 L1380.00,493.90 L1381.00,493.90 L1382.00,493.90 L1383.00,493.90 L1384.00,493.90 L1385.00,493.90 L1386.00,493.90 L1387.00,493.90 L1388.00,493.90 L1389.00,493.90 L1390.00,493.90 L1391.00,493.90 L1392.00,493.90 L1393.00,493.90 L1394.00,493.90 L1395.00,493.90 L1396.00,493.90 L1397.00,493.90 L1398.00,493.90 L1399.00,493.90 L1400.00,493.90 L1401.00,493.90 L1402.00,493.90 L1403.00,493.90 L1404.00,493.90 L1405.00,493.90 L1406.00,493.90 L1407.00,493.90 L1408.00,493.90 L1409.00,493.90 L1410.00,493.90 L1411.00,493.90 L1412.00,493.90 L1413.00,493.90 L1414.00,493.90 L1415.00,493.90 L1416.00,493.90 L1417.00,493.90 L1418.00,493.90 L1419.00,493.90 L1420.00,493.90 L1421.00,493.90 L1422.00,493.90 L1423.00,493.90 L1424.00,493.90 L1425.00,493.90 L1426.00,493.90 L1427.00,493.90 L1428.00,493.90 L1429.00,493.90 L1430.00,493.90 L1431.00,493.90 L1432.00,493.90 L1433.00,493.90 L1434.00,493.90 L1435.00,493.90 L1436.00,493.90 L1437.00,493.90 L1438.00,493.90 L1439.00,493.90 L1440.00,493.90 L1441.00,493.90 L1442.00,493.90 L1443.00,493.90 L1444.00,493.90 L1445.00,493.90 L1446.00,493.90 L1447.00,493.90 L1448.00,493.90 L1449.00,493.90 L1450.00,493.90 L1451.00,493.90 L1452.00,493.90 L1453.00,493.90 L1454.00,493.90 L1455.00,493.90 L1456.00,493.90 L1457.00,493.90 L1458.00,493.90 L1459.00,493.90 L1460.00,493.90 L1461.00,493.90 L1462.00,493.90 L1463.00,493.90 L1464.00,493.90 L1465.00,493.90 L1466.00,493.90 L1467.00,493.90 L1468.00,493.90 L1469.00,493.90 L1470.00,493.90 L1471.00,493.90 L1472.00,493.90 L1473.00,493.90 L1474.00,493.90 L1475.00,493.90 L1476.00,493.90 L1477.00,493.90 L1478.00,493.90 L1479.00,493.90 L1480.00,493.90 L1481.00,493.90 L1482.00,493.90 L1483.00,493.90 L1484.00,493.90 L1485.00,493.90 L1486.00,493.90 L1487.00,493.90 L1488.00,493.90 L1489.00,493.90 L1490.00,493.90 L1491.00,493.90 L1492.00,493.90 L1493.00,493.90 L1494.00,493.90 L1495.00,493.90 L1496.00,493.90 L1497.00,493.90 L1498.00,493.90 L1499.00,493.90 L1500.00,493.90 L1501.00,493.90 L1502.00,493.90 L1503.00,493.90 L1504.00,493.90 L1505.00,493.90 L1506.00,493.90 L1507.00,493.90 L1508.00,493.90 L1509.00,493.90 L1510.00,493.90 L1511.00,493.90 L1512.00,493.90 L1513.00,493.90 L1514.00,493.90 L1515.00,493.90 L1516.00,493.90 L1517.00,493.90 L1518.00,493.90 L1519.00,493.90 L1520.00,493.90 L1521.00,493.90 L1522.00,493.90 L1523.00,493.90 L1524.00,493.90 L1525.00,493.90 L1526.00,493.90 L1527.00,493.90 L1528.00,493.90 L1529.00,493.90 L1530.00,493.90 L1531.00,493.90 L1532.00,493.90 L1533.00,493.90 L1534.00,493.90 L1535.00,493.90 L1536.00,493.90 L1537.00,493.90 L1538.00,493.90 L1539.00,493.90 L1540.00,493.90 L1541.00,493.90 L1542.00,493.90 L1543.00,493.90 L1544.00,493.90 L1545.00,493.90 L1546.00,493.90 L1547.00,493.90 L1548.00,493.90 L1549.00,493.90 L1550.00,493.90 L1551.00,493.90 L1552.00,493.90 L1553.00,493.90 L1554.00,493.90 L1555.00,493.90 L1556.00,493.89 L1557.00,493.89 L1558.00,493.89 L1559.00,493.89 L1560.00,493.89 L1561.00,493.89 L1562.00,493.88 L1563.00,493.88 L1564.00,493.88 L1565.00,493.87 L1566.00,493.86 L1567.00,493.86 L1568.00,493.85 L1569.00,493.84 L1570.00,493.83 L1571.00,493.81 L1572.00,493.80 L1573.00,493.78 L1574.00,493.76 L1575.00,493.73 L1576.00,493.71 L1577.00,493.67 L1578.00,493.64 L1579.00,493.59 L1580.00,493.54 L1581.00,493.49 L1582.00,493.43 L1583.00,493.35 L1584.00,493.27 L1585.00,493.18 L1586.00,493.08 L1587.00,492.97 L1588.00,492.85 L1589.00,492.71 L1590.00,492.56 L1591.00,492.39 L1592.00,492.20 L1593.00,492.00 L1594.00,491.78 L1595.00,491.54 L1596.00,491.28 L1597.00,490.99 L1598.00,490.69 L1599.00,490.36 L1600.00,490.01 L1601.00,489.64 L1602.00,489.24 L1603.00,488.82 L1604.00,488.38 L1605.00,487.91 L1606.00,487.42 L1607.00,486.91 L1608.00,486.38 L1609.00,485.83 L1610.00,485.26 L1611.00,484.68 L1612.00,484.08 L1613.00,483.47 L1614.00,482.86 L1615.00,482.24 L1616.00,481.61 L1617.00,480.99 L1618.00,480.37 L1619.00,479.76 L1620.00,479.16 L1621.00,478.58 L1622.00,478.01 L1623.00,477.47 L1624.00,476.96 L1625.00,476.47 L1626.00,476.02 L1627.00,475.60 L1628.00,475.22 L1629.00,474.89 L1630.00,474.60 L1631.00,474.36 L1632.00,474.17 L1633.00,474.03 L1634.00,473.94 L1635.00,473.90 L1636.00,473.92 L1637.00,473.99 L1638.00,474.11 L1639.00,474.28 L1640.00,474.50 L1641.00,474.77 L1642.00,475.09 L1643.00,475.45 L1644.00,475.85 L1645.00,476.28 L1646.00,476.76 L1647.00,477.26 L1648.00,477.79 L1649.00,478.35 L1650.00,478.93 L1651.00,479.52 L1652.00,480.13 L1653.00,480.74 L1654.00,481.36 L1655.00,481.99 L1656.00,482.61 L1657.00,483.23 L1658.00,483.84 L1659.00,484.44 L1660.00,485.03 L1661.00,485.60 L1662.00,486.16 L1663.00,486.70 L1664.00,487.21 L1665.00,487.71 L1666.00,488.19 L1667.00,488.64 L1668.00,489.07 L1669.00,489.47 L1670.00,489.85 L1671.00,490.21 L1672.00,490.55 L1673.00,490.86 L1674.00,491.14 L1675.00,491.41 L1676.00,491.66 L1677.00,491.88 L1678.00,492.08 L1679.00,492.27 L1680.00,492.43 L1681.00,492.58 L1682.00,492.72 L1683.00,492.83 L1684.00,492.93 L1685.00,493.02 L1686.00,493.10 L1687.00,493.16 L1688.00,493.20 L1689.00,493.24 L1690.00,493.27 L1691.00,493.28 L1692.00,493.29 L1693.00,493.28 L1694.00,493.26 L1695.00,493.24 L1696.00,493.20 L1697.00,493.15 L1698.00,493.09 L1699.00,493.03 L1700.00,492.95 L1701.00,492.86 L1702.00,492.76 L1703.00,492.65 L1704.00,492.53 L1705.00,492.40 L1706.00,492.26 L1707.00,492.11 L1708.00,491.95 L1709.00,491.77 L1710.00,491.59 L1711.00,491.40 L1712.00,491.19 L1713.00,490.98 L1714.00,490.75 L1715.00,490.52 L1716.00,490.28 L1717.00,490.03 L1718.00,489.78 L1719.00,489.52 L1720.00,489.26 L1721.00,488.99 L1722.00,488.72 L1723.00,488.46 L1724.00,488.19 L1725.00,487.92 L1726.00,487.67 L1727.00,487.41 L1728.00,487.16 L1729.00,486.93 L1730.00,486.70 L1731.00,486.49 L1732.00,486.29 L1733.00,486.10 L1734.00,485.93 L1735.00,485.78 L1736.00,485.65 L1737.00,485.54 L1738.00,485.45 L1739.00,485.38 L1740.00,485.33 L1741.00,485.30 L1742.00,485.30 L1743.00,485.32 L1744.00,485.37 L1745.00,485.43 L1746.00,485.52 L1747.00,485.63 L1748.00,485.75 L1749.00,485.90 L1750.00,486.07 L1751.00,486.25 L1752.00,486.45 L1753.00,486.66 L1754.00,486.88 L1755.00,487.12 L1756.00,487.36 L1757.00,487.61 L1758.00,487.87 L1759.00,488.14 L1760.00,488.40 L1761.00,488.67 L1762.00,488.94 L1763.00,489.21 L1764.00,489.47 L1765.00,489.73 L1766.00,489.98 L1767.00,490.23 L1768.00,490.48 L1769.00,490.71 L1770.00,490.94 L1771.00,491.16 L1772.00,491.36 L1773.00,491.56 L1774.00,491.75 L1775.00,491.93 L1776.00,492.10 L1777.00,492.26 L1778.00,492.41 L1779.00,492.55 L1780.00,492.68 L1781.00,492.79 L1782.00,492.91 L1783.00,493.01 L1784.00,493.10 L1785.00,493.19 L1786.00,493.26 L1787.00,493.34 L1788.00,493.40 L1789.00,493.46 L1790.00,493.51 L1791.00,493.56 L1792.00,493.60 L1793.00,493.64 L1794.00,493.67 L1795.00,493.70 L1796.00,493.73 L1797.00,493.75 L1798.00,493.77 L1799.00,493.79 L1800.00,493.81 L1801.00,493.82 L1802.00,493.83 L1803.00,493.84 L1804.00,493.85 L1805.00,493.86 L1806.00,493.86 L1807.00,493.87 L1808.00,493.87 L1809.00,493.88 L1810.00,493.88 L1811.00,493.89 L1812.00,493.89 L1813.00,493.89 L1814.00,493.89 L1815.00,493.89 L1816.00,493.89 L1817.00,493.90 L1818.00,493.90 L1819.00,493.90 L1820.00,493.90 L1821.00,493.90 L1822.00,493.90 L1823.00,493.90 L1824.00,493.90 L1825.00,493.90 L1826.00,493.90 L1827.00,493.90 L1828.00,493.90 L1829.00,493.90 L1830.00,493.90 L1831.00,493.90 L1832.00,493.90 L1833.00,493.90 L1834.00,493.90 L1835.00,493.90 L1836.00,493.90 L1837.00,493.90 L1838.00,493.90 L1839.00,493.90 L1840.00,493.90 L1841.00,493.90 L1842.00,493.90 L1843.00,493.90 L1844.00,493.90 L1845.00,493.90 L1846.00,493.90 L1847.00,493.90 L1848.00,493.90 L1849.00,493.90 L1850.00,493.90 L1851.00,493.90 L1852.00,493.90 L1853.00,493.90 L1854.00,493.90 L1855.00,493.90 L1856.00,493.90 L1857.00,493.90 L1858.00,493.90 L1859.00,493.90 L1860.00,493.90 L1861.00,493.90 L1862.00,493.90 L1863.00,493.90 L1864.00,493.90 L1865.00,493.90 L1866.00,493.90 L1867.00,493.90 L1868.00,493.90 L1869.00,493.90 L1870.00,493.90 L1871.00,493.90 L1872.00,493.90 L1873.00,493.90 L1874.00,493.90 L1875.00,493.90 L1876.00,493.90 L1877.00,493.90 L1878.00,493.90 L1879.00,493.90 L1880.00,493.90 L1881.00,493.90 L1882.00,493.90 L1883.00,493.90 L1884.00,493.90 L1885.00,493.90 L1886.00,493.90 L1887.00,493.90 L1888.00,493.90 L1889.00,493.90 L1890.00,493.90 L1891.00,493.90 L1892.00,493.90 L1893.00,493.90 L1894.00,493.90 L1895.00,493.90 L1896.00,493.90 L1897.00,493.90 L1898.00,493.90 L1899.00,493.90 L1900.00,493.90 L1901.00,493.90 L1902.00,493.90 L1903.00,493.90 L1904.00,493.90 L1905.00,493.90 L1906.00,493.90 L1907.00,493.90 L1908.00,493.90 L1909.00,493.90 L1910.00,493.90 L1911.00,493.90 L1912.00,493.90 L1913.00,493.90 L1914.00,493.90 L1915.00,493.90 L1916.00,493.90 L1917.00,493.90 L1918.00,493.90 L1919.00,493.90 L1920.00,493.90 L1921.00,493.90 L1922.00,493.90 L1923.00,493.90 L1924.00,493.90 L1925.00,493.90 L1926.00,493.90 L1927.00,493.90 L1928.00,493.90 L1929.00,493.90 L1930.00,493.90 L1931.00,493.90 L1932.00,493.90 L1933.00,493.90 L1934.00,493.90 L1935.00,493.90 L1936.00,493.90 L1937.00,493.90 L1938.00,493.90 L1939.00,493.90 L1940.00,493.90 L1941.00,493.90 L1942.00,493.90 L1943.00,493.90 L1944.00,493.90 L1945.00,493.90 L1946.00,493.90 L1947.00,493.90 L1948.00,493.90 L1949.00,493.90 L1950.00,493.90 L1951.00,493.90 L1952.00,493.90 L1953.00,493.90 L1954.00,493.90 L1955.00,493.90 L1956.00,493.90 L1957.00,493.90 L1958.00,493.90 L1959.00,493.90 L1960.00,493.90 L1961.00,493.90 L1962.00,493.90 L1963.00,493.90 L1964.00,493.90 L1965.00,493.90 L1966.00,493.90 L1967.00,493.90 L1968.00,493.90 L1969.00,493.90 L1970.00,493.90 L1971.00,493.90 L1972.00,493.90 L1973.00,493.90 L1974.00,493.90 L1975.00,493.90 L1976.00,493.90 L1977.00,493.90 L1978.00,493.90 L1979.00,493.90 L1980.00,493.90 L1981.00,493.90 L1982.00,493.90 L1983.00,493.90 L1984.00,493.90 L1985.00,493.90 L1986.00,493.90 L1987.00,493.90 L1988.00,493.90 L1989.00,493.90 L1990.00,493.90 L1991.00,493.90 L1992.00,493.90 L1993.00,493.90 L1994.00,493.90 L1995.00,493.90 L1996.00,493.90 L1997.00,493.90 L1998.00,493.90 L1999.00,493.90 L2000.00,493.90 L2001.00,493.90 L2002.00,493.90 L2003.00,493.90 L2004.00,493.90 L2005.00,493.90 L2006.00,493.90 L2007.00,493.90 L2008.00,493.90 L2009.00,493.90 L2010.00,493.90" stroke="#D95319" stroke-width="3.40"/>
<path d="M1075.00,493.90 L1076.00,493.90 L1077.00,493.90 L1078.00,493.90 L1079.00,493.90 L1080.00,493.90 L1081.00,493.90 L1082.00,493.90 L1083.00,493.90 L1084.00,493.90 L1085.00,493.90 L1086.00,493.90 L1087.00,493.90 L1088.00,493.90 L1089.00,493.90 L1090.00,493.90 L1091.00,493.90 L1092.00,493.90 L1093.00,493.90 L1094.00,493.90 L1095.00,493.90 L1096.00,493.90 L1097.00,493.90 L1098.00,493.90 L1099.00,493.90 L1100.00,493.90 L1101.00,493.90 L1102.00,493.90 L1103.00,493.90 L1104.00,493.90 L1105.00,493.90 L1106.00,493.90 L1107.00,493.90 L1108.00,493.90 L1109.00,493.90 L1110.00,493.90 L1111.00,493.90 L1112.00,493.90 L1113.00,493.90 L1114.00,493.90 L1115.00,493.90 L1115.99,493.90 L1116.99,493.90 L1117.99,493.90 L1118.99,493.90 L1119.99,493.90 L1120.99,493.90 L1121.99,493.90 L1122.99,493.90 L1123.99,493.90 L1124.99,493.90 L1125.99,493.90 L1126.99,493.90 L1127.99,493.90 L1128.99,493.90 L1129.99,493.90 L1130.99,493.90 L1131.99,493.90 L1132.99,493.90 L1133.99,493.90 L1134.99,493.90 L1135.99,493.90 L1136.99,493.90 L1137.99,493.90 L1138.99,493.90 L1139.99,493.90 L1140.99,493.90 L1141.99,493.90 L1142.99,493.90 L1143.99,493.90 L1144.99,493.90 L1145.99,493.90 L1146.99,493.90 L1147.99,493.90 L1148.99,493.90 L1149.99,493.90 L1150.99,493.90 L1151.99,493.90 L1152.99,493.90 L1153.99,493.90 L1154.99,493.90 L1155.99,493.90 L1156.99,493.90 L1157.99,493.90 L1158.99,493.90 L1159.99,493.90 L1160.99,493.90 L1161.99,493.90 L1162.99,493.90 L1163.99,493.90 L1164.99,493.90 L1165.99,493.90 L1166.99,493.90 L1167.99,493.90 L1168.99,493.90 L1169.99,493.90 L1170.99,493.90 L1171.99,493.90 L1172.99,493.90 L1173.99,493.90 L1174.99,493.90 L1175.99,493.90 L1176.99,493.90 L1177.99,493.90 L1178.99,493.90 L1179.99,493.90 L1180.99,493.90 L1181.99,493.90 L1182.99,493.90 L1183.99,493.90 L1184.99,493.90 L1185.99,493.90 L1186.99,493.90 L1187.99,493.90 L1188.99,493.90 L1189.99,493.90 L1190.99,493.90 L1191.99,493.90 L1192.99,493.90 L1193.99,493.90 L1194.99,493.90 L1195.99,493.90 L1196.99,493.90 L1197.98,493.90 L1198.98,493.90 L1199.98,493.90 L1200.98,493.90 L1201.98,493.90 L1202.98,493.90 L1203.98,493.90 L1204.98,493.90 L1205.98,493.90 L1206.98,493.90 L1207.98,493.90 L1208.98,493.90 L1209.98,493.90 L1210.98,493.90 L1211.98,493.90 L1212.98,493.90 L1213.98,493.90 L1214.98,493.90 L1215.98,493.90 L1216.98,493.90 L1217.98,493.90 L1218.98,493.90 L1219.98,493.90 L1220.98,493.90 L1221.98,493.90 L1222.98,493.90 L1223.98,493.90 L1224.98,493.90 L1225.98,493.90 L1226.98,493.90 L1227.98,493.90 L1228.98,493.90 L1229.98,493.90 L1230.98,493.90 L1231.98,493.90 L1232.98,493.90 L1233.98,493.90 L1234.98,493.90 L1235.98,493.90 L1236.98,493.90 L1237.98,493.90 L1238.98,493.90 L1239.98,493.90 L1240.98,493.90 L1241.98,493.90 L1242.98,493.90 L1243.98,493.90 L1244.98,493.90 L1245.98,493.90 L1246.98,493.90 L1247.98,493.90 L1248.98,493.90 L1249.98,493.90 L1250.98,493.90 L1251.98,493.90 L1252.98,493.90 L1253.98,493.90 L1254.98,493.90 L1255.98,493.90 L1256.98,493.90 L1257.98,493.90 L1258.98,493.90 L1259.98,493.90 L1260.98,493.90 L1261.98,493.90 L1262.98,493.90 L1263.98,493.90 L1264.98,493.90 L1265.98,493.90 L1266.98,493.90 L1267.98,493.90 L1268.98,493.90 L1269.98,493.90 L1270.98,493.90 L1271.98,493.90 L1272.98,493.90 L1273.98,493.90 L1274.98,493.90 L1275.98,493.90 L1276.98,493.90 L1277.98,493.90 L1278.98,493.90 L1279.97,493.90 L1280.97,493.90 L1281.97,493.90 L1282.97,493.90 L1283.97,493.90 L1284.97,493.90 L1285.97,493.90 L1286.97,493.90 L1287.97,493.90 L1288.97,493.90 L1289.97,493.90 L1290.97,493.90 L1291.97,493.90 L1292.97,493.90 L1293.97,493.90 L1294.97,493.90 L1295.97,493.90 L1296.97,493.90 L1297.97,493.90 L1298.97,493.90 L1299.97,493.90 L1300.97,493.90 L1301.97,493.90 L1302.97,493.90 L1303.97,493.90 L1304.97,493.90 L1305.97,493.90 L1306.97,493.90 L1307.97,493.90 L1308.97,493.90 L1309.97,493.90 L1310.97,493.90 L1311.97,493.90 L1312.97,493.90 L1313.97,493.90 L1314.97,493.90 L1315.97,493.90 L1316.97,493.90 L1317.97,493.90 L1318.97,493.90 L1319.97,493.90 L1320.97,493.90 L1321.97,493.90 L1322.97,493.90 L1323.97,493.90 L1324.97,493.90 L1325.97,493.90 L1326.97,493.90 L1327.97,493.90 L1328.97,493.90 L1329.97,493.90 L1330.97,493.90 L1331.97,493.90 L1332.97,493.90 L1333.97,493.90 L1334.97,493.90 L1335.97,493.90 L1336.97,493.90 L1337.97,493.90 L1338.97,493.90 L1339.97,493.90 L1340.97,493.90 L1341.97,493.90 L1342.97,493.90 L1343.97,493.90 L1344.97,493.90 L1345.97,493.90 L1346.97,493.90 L1347.97,493.90 L1348.97,493.90 L1349.97,493.90 L1350.97,493.90 L1351.97,493.90 L1352.97,493.90 L1353.97,493.90 L1354.97,493.90 L1355.97,493.90 L1356.97,493.90 L1357.97,493.90 L1358.97,493.90 L1359.97,493.90 L1360.96,493.90 L1361.96,493.90 L1362.96,493.90 L1363.96,493.90 L1364.96,493.90 L1365.96,493.90 L1366.96,493.90 L1367.96,493.90 L1368.96,493.90 L1369.96,493.90 L1370.96,493.90 L1371.96,493.90 L1372.96,493.90 L1373.96,493.90 L1374.96,493.90 L1375.96,493.90 L1376.96,493.90 L1377.96,493.90 L1378.96,493.90 L1379.96,493.90 L1380.96,493.90 L1381.96,493.90 L1382.96,493.90 L1383.96,493.90 L1384.96,493.90 L1385.96,493.90 L1386.96,493.90 L1387.96,493.90 L1388.96,493.90 L1389.96,493.90 L1390.96,493.90 L1391.96,493.90 L1392.96,493.90 L1393.96,493.90 L1394.96,493.90 L1395.96,493.90 L1396.96,493.90 L1397.96,493.90 L1398.96,493.90 L1399.96,493.90 L1400.96,493.90 L1401.96,493.90 L1402.96,493.90 L1403.96,493.90 L1404.96,493.90 L1405.96,493.90 L1406.96,493.90 L1407.96,493.90 L1408.96,493.90 L1409.96,493.90 L1410.96,493.90 L1411.96,493.90 L1412.96,493.90 L1413.96,493.90 L1414.96,493.90 L1415.96,493.90 L1416.96,493.90 L1417.96,493.90 L1418.96,493.90 L1419.96,493.90 L1420.96,493.90 L1421.96,493.90 L1422.96,493.90 L1423.96,493.90 L1424.96,493.90 L1425.96,493.90 L1426.96,493.90 L1427.96,493.90 L1428.96,493.90 L1429.96,493.90 L1430.96,493.90 L1431.96,493.90 L1432.96,493.90 L1433.96,493.90 L1434.96,493.90 L1435.96,493.90 L1436.96,493.90 L1437.96,493.90 L1438.96,493.90 L1439.96,493.90 L1440.96,493.90 L1441.96,493.90 L1442.95,493.90 L1443.95,493.90 L1444.95,493.90 L1445.95,493.90 L1446.95,493.90 L1447.95,493.90 L1448.95,493.90 L1449.95,493.90 L1450.95,493.90 L1451.95,493.90 L1452.95,493.90 L1453.95,493.90 L1454.95,493.90 L1455.95,493.90 L1456.95,493.90 L1457.95,493.90 L1458.95,493.90 L1459.95,493.90 L1460.95,493.90 L1461.95,493.90 L1462.95,493.90 L1463.95,493.90 L1464.95,493.90 L1465.95,493.90 L1466.95,493.90 L1467.95,493.90 L1468.95,493.90 L1469.95,493.90 L1470.95,493.90 L1471.95,493.90 L1472.95,493.90 L1473.95,493.90 L1474.95,493.90 L1475.95,493.90 L1476.95,493.90 L1477.95,493.90 L1478.95,493.90 L1479.95,493.90 L1480.95,493.90 L1481.95,493.90 L1482.95,493.90 L1483.95,493.90 L1484.95,493.90 L1485.95,493.90 L1486.95,493.90 L1487.95,493.90 L1488.95,493.90 L1489.95,493.90 L1490.95,493.90 L1491.95,493.90 L1492.95,493.90 L1493.95,493.90 L1494.95,493.90 L1495.95,493.90 L1496.95,493.90 L1497.95,493.90 L1498.95,493.90 L1499.95,493.90 L1500.95,493.90 L1501.95,493.90 L1502.95,493.90 L1503.95,493.90 L1504.95,493.90 L1505.95,493.90 L1506.95,493.90 L1507.95,493.90 L1508.95,493.90 L1509.95,493.90 L1510.95,493.90 L1511.95,493.90 L1512.95,493.90 L1513.95,493.90 L1514.95,493.90 L1515.95,493.90 L1516.95,493.90 L1517.95,493.90 L1518.95,493.90 L1519.95,493.90 L1520.95,493.90 L1521.95,493.90 L1522.95,493.90 L1523.95,493.90 L1524.94,493.90 L1525.94,493.90 L1526.94,493.90 L1527.94,493.90 L1528.94,493.90 L1529.94,493.90 L1530.94,493.90 L1531.94,493.90 L1532.94,493.90 L1533.94,493.90 L1534.94,493.90 L1535.94,493.90 L1536.94,493.90 L1537.94,493.90 L1538.94,493.90 L1539.94,493.90 L1540.94,493.90 L1541.94,493.90 L1542.94,493.90 L1543.94,493.90 L1544.94,493.90 L1545.94,493.90 L1546.94,493.90 L1547.94,493.90 L1548.94,493.90 L1549.94,493.90 L1550.94,493.90 L1551.94,493.90 L1552.94,493.90 L1553.94,493.90 L1554.94,493.90 L1555.94,493.90 L1556.94,493.90 L1557.94,493.90 L1558.94,493.90 L1559.94,493.90 L1560.94,493.90 L1561.94,493.90 L1562.94,493.90 L1563.94,493.90 L1564.94,493.90 L1565.94,493.90 L1566.94,493.90 L1567.94,493.90 L1568.94,493.90 L1569.94,493.90 L1570.94,493.90 L1571.94,493.90 L1572.94,493.90 L1573.94,493.90 L1574.94,493.90 L1575.94,493.90 L1576.94,493.90 L1577.94,493.90 L1578.94,493.90 L1579.94,493.90 L1580.94,493.90 L1581.94,493.90 L1582.94,493.90 L1583.94,493.90 L1584.94,493.90 L1585.94,493.90 L1586.94,493.90 L1587.94,493.90 L1588.94,493.90 L1589.94,493.90 L1590.94,493.90 L1591.94,493.90 L1592.94,493.90 L1593.94,493.90 L1594.94,493.90 L1595.94,493.90 L1596.94,493.90 L1597.94,493.90 L1598.94,493.90 L1599.94,493.90 L1600.94,493.90 L1601.94,493.90 L1602.94,493.90 L1603.94,493.90 L1604.94,493.90 L1605.94,493.90 L1606.93,493.90 L1607.93,493.90 L1608.93,493.90 L1609.93,493.90 L1610.93,493.89 L1611.93,493.89 L1612.93,493.89 L1613.93,493.89 L1614.93,493.89 L1615.93,493.89 L1616.93,493.88 L1617.93,493.88 L1618.93,493.88 L1619.93,493.87 L1620.93,493.87 L1621.93,493.86 L1622.93,493.85 L1623.93,493.84 L1624.93,493.83 L1625.93,493.82 L1626.93,493.80 L1627.93,493.79 L1628.93,493.77 L1629.93,493.75 L1630.93,493.72 L1631.93,493.69 L1632.93,493.66 L1633.93,493.62 L1634.93,493.58 L1635.93,493.53 L1636.93,493.48 L1637.93,493.42 L1638.93,493.35 L1639.93,493.28 L1640.93,493.19 L1641.93,493.10 L1642.93,493.00 L1643.93,492.89 L1644.93,492.76 L1645.93,492.63 L1646.93,492.48 L1647.93,492.32 L1648.93,492.14 L1649.93,491.96 L1650.93,491.75 L1651.93,491.54 L1652.93,491.30 L1653.93,491.05 L1654.93,490.79 L1655.93,490.51 L1656.93,490.22 L1657.93,489.91 L1658.93,489.58 L1659.93,489.24 L1660.93,488.89 L1661.93,488.52 L1662.93,488.15 L1663.93,487.76 L1664.93,487.37 L1665.93,486.97 L1666.93,486.56 L1667.93,486.15 L1668.93,485.74 L1669.93,485.33 L1670.93,484.92 L1671.93,484.52 L1672.93,484.12 L1673.93,483.74 L1674.93,483.37 L1675.93,483.01 L1676.93,482.68 L1677.93,482.36 L1678.93,482.06 L1679.93,481.79 L1680.93,481.54 L1681.93,481.33 L1682.93,481.14 L1683.93,480.99 L1684.93,480.86 L1685.93,480.77 L1686.93,480.72 L1687.92,480.70 L1688.92,480.71 L1689.92,480.76 L1690.92,480.85 L1691.92,480.97 L1692.92,481.12 L1693.92,481.30 L1694.92,481.51 L1695.92,481.75 L1696.92,482.02 L1697.92,482.31 L1698.92,482.63 L1699.92,482.96 L1700.92,483.31 L1701.92,483.68 L1702.92,484.07 L1703.92,484.46 L1704.92,484.86 L1705.92,485.27 L1706.92,485.68 L1707.92,486.09 L1708.92,486.50 L1709.92,486.91 L1710.92,487.31 L1711.92,487.70 L1712.92,488.09 L1713.92,488.47 L1714.92,488.84 L1715.92,489.19 L1716.92,489.53 L1717.92,489.86 L1718.92,490.17 L1719.92,490.47 L1720.92,490.75 L1721.92,491.02 L1722.92,491.27 L1723.92,491.50 L1724.92,491.72 L1725.92,491.93 L1726.92,492.12 L1727.92,492.29 L1728.92,492.46 L1729.92,492.61 L1730.92,492.74 L1731.92,492.87 L1732.92,492.98 L1733.92,493.09 L1734.92,493.18 L1735.92,493.27 L1736.92,493.34 L1737.92,493.41 L1738.92,493.47 L1739.92,493.53 L1740.92,493.57 L1741.92,493.62 L1742.92,493.65 L1743.92,493.69 L1744.92,493.72 L1745.92,493.74 L1746.92,493.77 L1747.92,493.79 L1748.92,493.80 L1749.92,493.82 L1750.92,493.83 L1751.92,493.84 L1752.92,493.85 L1753.92,493.86 L1754.92,493.86 L1755.92,493.87 L1756.92,493.88 L1757.92,493.88 L1758.92,493.88 L1759.92,493.89 L1760.92,493.89 L1761.92,493.89 L1762.92,493.89 L1763.92,493.89 L1764.92,493.89 L1765.92,493.90 L1766.92,493.90 L1767.92,493.90 L1768.92,493.90 L1769.91,493.90 L1770.91,493.90 L1771.91,493.90 L1772.91,493.90 L1773.91,493.90 L1774.91,493.90 L1775.91,493.90 L1776.91,493.90 L1777.91,493.90 L1778.91,493.90 L1779.91,493.90 L1780.91,493.90 L1781.91,493.90 L1782.91,493.90 L1783.91,493.90 L1784.91,493.90 L1785.91,493.90 L1786.91,493.90 L1787.91,493.90 L1788.91,493.90 L1789.91,493.90 L1790.91,493.90 L1791.91,493.90 L1792.91,493.90 L1793.91,493.90 L1794.91,493.90 L1795.91,493.90 L1796.91,493.90 L1797.91,493.90 L1798.91,493.90 L1799.91,493.90 L1800.91,493.90 L1801.91,493.90 L1802.91,493.90 L1803.91,493.90 L1804.91,493.90 L1805.91,493.90 L1806.91,493.90 L1807.91,493.90 L1808.91,493.90 L1809.91,493.90 L1810.91,493.90 L1811.91,493.90 L1812.91,493.90 L1813.91,493.90 L1814.91,493.90 L1815.91,493.90 L1816.91,493.90 L1817.91,493.90 L1818.91,493.90 L1819.91,493.90 L1820.91,493.90 L1821.91,493.90 L1822.91,493.90 L1823.91,493.90 L1824.91,493.90 L1825.91,493.90 L1826.91,493.90 L1827.91,493.90 L1828.91,493.90 L1829.91,493.90 L1830.91,493.90 L1831.91,493.90 L1832.91,493.90 L1833.91,493.90 L1834.91,493.90 L1835.91,493.90 L1836.91,493.90 L1837.91,493.90 L1838.91,493.90 L1839.91,493.90 L1840.91,493.90 L1841.91,493.90 L1842.91,493.90 L1843.91,493.90 L1844.91,493.90 L1845.91,493.90 L1846.91,493.90 L1847.91,493.90 L1848.91,493.90 L1849.91,493.90 L1850.91,493.90 L1851.90,493.90 L1852.90,493.90 L1853.90,493.90 L1854.90,493.90 L1855.90,493.90 L1856.90,493.90 L1857.90,493.90 L1858.90,493.90 L1859.90,493.90 L1860.90,493.90 L1861.90,493.90 L1862.90,493.90 L1863.90,493.90 L1864.90,493.90 L1865.90,493.90 L1866.90,493.90 L1867.90,493.90 L1868.90,493.90 L1869.90,493.90 L1870.90,493.90 L1871.90,493.90 L1872.90,493.90 L1873.90,493.90 L1874.90,493.90 L1875.90,493.90 L1876.90,493.90 L1877.90,493.90 L1878.90,493.90 L1879.90,493.90 L1880.90,493.90 L1881.90,493.90 L1882.90,493.90 L1883.90,493.90 L1884.90,493.90 L1885.90,493.90 L1886.90,493.90 L1887.90,493.90 L1888.90,493.90 L1889.90,493.90 L1890.90,493.90 L1891.90,493.90" stroke="#EDB120" stroke-width="3.40"/>
</g>
<g stroke="#000" stroke-width="0.30">
<text transform="translate(1084.41 541.50) scale(0.9813 1)" font-size="31.00">900</text>
<text transform="translate(1234.33 541.50) scale(0.9858 1)" font-size="31.00">1000</text>
<text transform="translate(1391.88 541.50) scale(1.0024 1)" font-size="31.00">1100</text>
<text transform="translate(1547.14 541.50) scale(0.9824 1)" font-size="31.00">1200</text>
<text transform="translate(1702.10 541.50) scale(0.9944 1)" font-size="31.00">1300</text>
<text transform="translate(1859.42 541.50) scale(0.9892 1)" font-size="31.00">1400</text>
<text transform="translate(1045.46 46.10) scale(1.0458 1)" font-size="31.00">12</text>
<text transform="translate(1045.52 123.20) scale(1.0249 1)" font-size="31.00">10</text>
<text transform="translate(1057.37 199.00) scale(0.9720 1)" font-size="31.00">8</text>
<text transform="translate(1057.18 275.90) scale(0.9720 1)" font-size="31.00">6</text>
<text transform="translate(1057.29 353.00) scale(0.9720 1)" font-size="31.00">4</text>
<text transform="translate(1057.56 431.20) scale(0.9720 1)" font-size="31.00">2</text>
<text transform="translate(1057.37 508.50) scale(0.9720 1)" font-size="31.00">0</text>
<text transform="translate(1406.85 577.40) scale(0.9959 1)" font-size="35.00">Sampling Point</text>
<text transform="translate(1043.00 359.35) rotate(-90) scale(1.0045 1)" font-size="34.50">Amplitude(A)</text>
<text x="1486.10" y="660.40" font-size="43.00">(<tspan font-weight="bold">b</tspan>)</text>
</g>
</svg>
</body></html>
